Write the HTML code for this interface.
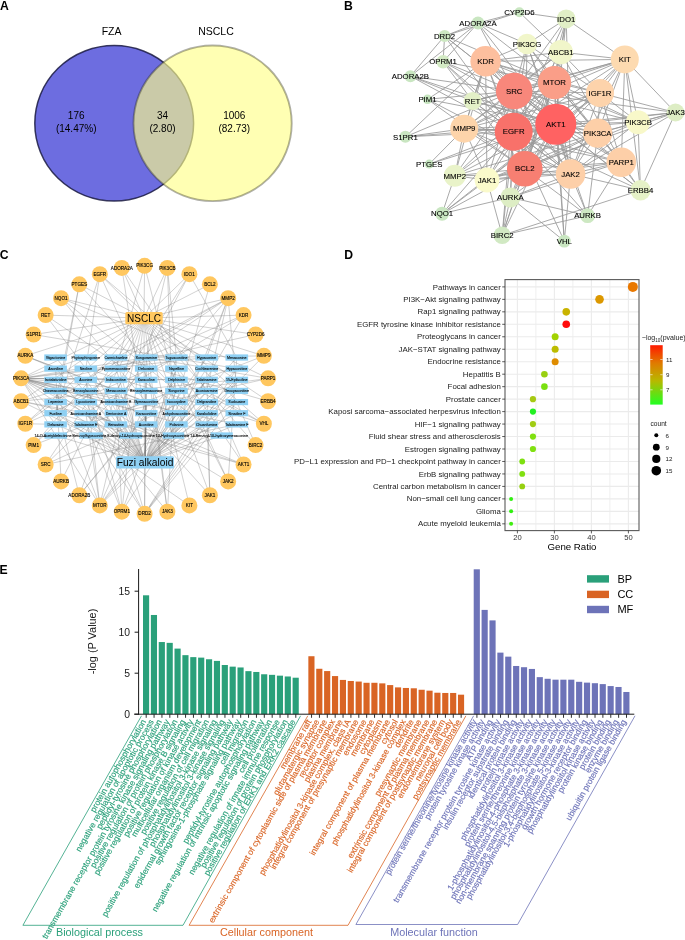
<!DOCTYPE html>
<html><head><meta charset="utf-8"><style>
html,body{margin:0;padding:0;background:#fff;}
body{width:685px;height:940px;overflow:hidden;}
svg{display:block;will-change:transform;}
text{font-family:"Liberation Sans",sans-serif;}
</style></head><body>
<svg width="685" height="940" viewBox="0 0 685 940" font-family="Liberation Sans, sans-serif">
<rect width="685" height="940" fill="#fff"/>
<text x="0.00" y="9.60" font-size="12.2" text-anchor="start" fill="#000" font-weight="bold">A</text>
<text x="344.00" y="9.70" font-size="12.2" text-anchor="start" fill="#000" font-weight="bold">B</text>
<text x="-0.30" y="259.30" font-size="12.2" text-anchor="start" fill="#000" font-weight="bold">C</text>
<text x="344.20" y="259.00" font-size="12.2" text-anchor="start" fill="#000" font-weight="bold">D</text>
<text x="-0.60" y="573.60" font-size="12.2" text-anchor="start" fill="#000" font-weight="bold">E</text>
<ellipse cx="114.2" cy="123.3" rx="79.4" ry="77.8" fill="#6D6DE0" stroke="#15153A" stroke-opacity="0.82" stroke-width="1.5"/>
<ellipse cx="212.6" cy="123.3" rx="79.10000000000001" ry="77.8" fill="#FFFF88" fill-opacity="0.64"/>
<ellipse cx="212.6" cy="123.3" rx="79.10000000000001" ry="77.8" fill="none" stroke="#202010" stroke-opacity="0.36" stroke-width="1.9"/>
<text x="111.60" y="34.70" font-size="10.5" text-anchor="middle" fill="#000">FZA</text>
<text x="216.00" y="35.30" font-size="10.5" text-anchor="middle" fill="#000">NSCLC</text>
<text x="76.20" y="119.30" font-size="10" text-anchor="middle" fill="#000">176</text>
<text x="76.20" y="131.50" font-size="10" text-anchor="middle" fill="#000">(14.47%)</text>
<text x="162.50" y="119.30" font-size="10" text-anchor="middle" fill="#000">34</text>
<text x="162.50" y="131.50" font-size="10" text-anchor="middle" fill="#000">(2.80)</text>
<text x="234.30" y="119.30" font-size="10" text-anchor="middle" fill="#000">1006</text>
<text x="234.30" y="131.50" font-size="10" text-anchor="middle" fill="#000">(82.73)</text>
<g stroke="#999" stroke-width="0.85">
<line x1="560.8" y1="52.1" x2="555.8" y2="124.2"/>
<line x1="560.8" y1="52.1" x2="524.8" y2="168.7"/>
<line x1="560.8" y1="52.1" x2="519.4" y2="12.2"/>
<line x1="560.8" y1="52.1" x2="513.7" y2="131.7"/>
<line x1="560.8" y1="52.1" x2="566.2" y2="18.9"/>
<line x1="560.8" y1="52.1" x2="600.0" y2="93.0"/>
<line x1="560.8" y1="52.1" x2="485.6" y2="61.3"/>
<line x1="560.8" y1="52.1" x2="624.8" y2="59.4"/>
<line x1="560.8" y1="52.1" x2="464.2" y2="128.7"/>
<line x1="560.8" y1="52.1" x2="554.5" y2="82.6"/>
<line x1="560.8" y1="52.1" x2="621.3" y2="162.2"/>
<line x1="560.8" y1="52.1" x2="514.2" y2="91.0"/>
<line x1="478.0" y1="23.0" x2="410.4" y2="76.2"/>
<line x1="478.0" y1="23.0" x2="555.8" y2="124.2"/>
<line x1="478.0" y1="23.0" x2="519.4" y2="12.2"/>
<line x1="478.0" y1="23.0" x2="444.6" y2="36.0"/>
<line x1="478.0" y1="23.0" x2="554.5" y2="82.6"/>
<line x1="478.0" y1="23.0" x2="443.1" y2="61.7"/>
<line x1="478.0" y1="23.0" x2="527.0" y2="44.0"/>
<line x1="478.0" y1="23.0" x2="514.2" y2="91.0"/>
<line x1="410.4" y1="76.2" x2="555.8" y2="124.2"/>
<line x1="410.4" y1="76.2" x2="444.6" y2="36.0"/>
<line x1="410.4" y1="76.2" x2="513.7" y2="131.7"/>
<line x1="410.4" y1="76.2" x2="472.6" y2="101.0"/>
<line x1="410.4" y1="76.2" x2="514.2" y2="91.0"/>
<line x1="555.8" y1="124.2" x2="510.4" y2="197.4"/>
<line x1="555.8" y1="124.2" x2="587.6" y2="215.7"/>
<line x1="555.8" y1="124.2" x2="524.8" y2="168.7"/>
<line x1="555.8" y1="124.2" x2="502.2" y2="235.3"/>
<line x1="555.8" y1="124.2" x2="444.6" y2="36.0"/>
<line x1="555.8" y1="124.2" x2="513.7" y2="131.7"/>
<line x1="555.8" y1="124.2" x2="640.5" y2="190.2"/>
<line x1="555.8" y1="124.2" x2="566.2" y2="18.9"/>
<line x1="555.8" y1="124.2" x2="600.0" y2="93.0"/>
<line x1="555.8" y1="124.2" x2="487.0" y2="180.0"/>
<line x1="555.8" y1="124.2" x2="570.6" y2="174.0"/>
<line x1="555.8" y1="124.2" x2="675.5" y2="112.5"/>
<line x1="555.8" y1="124.2" x2="485.6" y2="61.3"/>
<line x1="555.8" y1="124.2" x2="624.8" y2="59.4"/>
<line x1="555.8" y1="124.2" x2="454.8" y2="175.8"/>
<line x1="555.8" y1="124.2" x2="464.2" y2="128.7"/>
<line x1="555.8" y1="124.2" x2="554.5" y2="82.6"/>
<line x1="555.8" y1="124.2" x2="442.1" y2="213.7"/>
<line x1="555.8" y1="124.2" x2="443.1" y2="61.7"/>
<line x1="555.8" y1="124.2" x2="621.3" y2="162.2"/>
<line x1="555.8" y1="124.2" x2="597.7" y2="133.2"/>
<line x1="555.8" y1="124.2" x2="638.0" y2="122.2"/>
<line x1="555.8" y1="124.2" x2="527.0" y2="44.0"/>
<line x1="555.8" y1="124.2" x2="427.5" y2="99.3"/>
<line x1="555.8" y1="124.2" x2="429.2" y2="164.1"/>
<line x1="555.8" y1="124.2" x2="472.6" y2="101.0"/>
<line x1="555.8" y1="124.2" x2="405.4" y2="136.8"/>
<line x1="555.8" y1="124.2" x2="514.2" y2="91.0"/>
<line x1="555.8" y1="124.2" x2="564.3" y2="241.1"/>
<line x1="510.4" y1="197.4" x2="587.6" y2="215.7"/>
<line x1="510.4" y1="197.4" x2="524.8" y2="168.7"/>
<line x1="510.4" y1="197.4" x2="502.2" y2="235.3"/>
<line x1="510.4" y1="197.4" x2="513.7" y2="131.7"/>
<line x1="510.4" y1="197.4" x2="570.6" y2="174.0"/>
<line x1="510.4" y1="197.4" x2="554.5" y2="82.6"/>
<line x1="510.4" y1="197.4" x2="442.1" y2="213.7"/>
<line x1="510.4" y1="197.4" x2="621.3" y2="162.2"/>
<line x1="510.4" y1="197.4" x2="597.7" y2="133.2"/>
<line x1="510.4" y1="197.4" x2="514.2" y2="91.0"/>
<line x1="510.4" y1="197.4" x2="564.3" y2="241.1"/>
<line x1="587.6" y1="215.7" x2="524.8" y2="168.7"/>
<line x1="587.6" y1="215.7" x2="502.2" y2="235.3"/>
<line x1="587.6" y1="215.7" x2="513.7" y2="131.7"/>
<line x1="587.6" y1="215.7" x2="570.6" y2="174.0"/>
<line x1="587.6" y1="215.7" x2="621.3" y2="162.2"/>
<line x1="587.6" y1="215.7" x2="597.7" y2="133.2"/>
<line x1="524.8" y1="168.7" x2="502.2" y2="235.3"/>
<line x1="524.8" y1="168.7" x2="513.7" y2="131.7"/>
<line x1="524.8" y1="168.7" x2="566.2" y2="18.9"/>
<line x1="524.8" y1="168.7" x2="600.0" y2="93.0"/>
<line x1="524.8" y1="168.7" x2="487.0" y2="180.0"/>
<line x1="524.8" y1="168.7" x2="570.6" y2="174.0"/>
<line x1="524.8" y1="168.7" x2="485.6" y2="61.3"/>
<line x1="524.8" y1="168.7" x2="624.8" y2="59.4"/>
<line x1="524.8" y1="168.7" x2="454.8" y2="175.8"/>
<line x1="524.8" y1="168.7" x2="464.2" y2="128.7"/>
<line x1="524.8" y1="168.7" x2="554.5" y2="82.6"/>
<line x1="524.8" y1="168.7" x2="442.1" y2="213.7"/>
<line x1="524.8" y1="168.7" x2="621.3" y2="162.2"/>
<line x1="524.8" y1="168.7" x2="597.7" y2="133.2"/>
<line x1="524.8" y1="168.7" x2="638.0" y2="122.2"/>
<line x1="524.8" y1="168.7" x2="527.0" y2="44.0"/>
<line x1="524.8" y1="168.7" x2="427.5" y2="99.3"/>
<line x1="524.8" y1="168.7" x2="472.6" y2="101.0"/>
<line x1="524.8" y1="168.7" x2="514.2" y2="91.0"/>
<line x1="502.2" y1="235.3" x2="513.7" y2="131.7"/>
<line x1="502.2" y1="235.3" x2="640.5" y2="190.2"/>
<line x1="502.2" y1="235.3" x2="487.0" y2="180.0"/>
<line x1="502.2" y1="235.3" x2="554.5" y2="82.6"/>
<line x1="502.2" y1="235.3" x2="514.2" y2="91.0"/>
<line x1="519.4" y1="12.2" x2="444.6" y2="36.0"/>
<line x1="519.4" y1="12.2" x2="566.2" y2="18.9"/>
<line x1="444.6" y1="36.0" x2="513.7" y2="131.7"/>
<line x1="444.6" y1="36.0" x2="554.5" y2="82.6"/>
<line x1="444.6" y1="36.0" x2="443.1" y2="61.7"/>
<line x1="444.6" y1="36.0" x2="514.2" y2="91.0"/>
<line x1="513.7" y1="131.7" x2="640.5" y2="190.2"/>
<line x1="513.7" y1="131.7" x2="566.2" y2="18.9"/>
<line x1="513.7" y1="131.7" x2="600.0" y2="93.0"/>
<line x1="513.7" y1="131.7" x2="487.0" y2="180.0"/>
<line x1="513.7" y1="131.7" x2="570.6" y2="174.0"/>
<line x1="513.7" y1="131.7" x2="675.5" y2="112.5"/>
<line x1="513.7" y1="131.7" x2="485.6" y2="61.3"/>
<line x1="513.7" y1="131.7" x2="624.8" y2="59.4"/>
<line x1="513.7" y1="131.7" x2="454.8" y2="175.8"/>
<line x1="513.7" y1="131.7" x2="464.2" y2="128.7"/>
<line x1="513.7" y1="131.7" x2="554.5" y2="82.6"/>
<line x1="513.7" y1="131.7" x2="442.1" y2="213.7"/>
<line x1="513.7" y1="131.7" x2="443.1" y2="61.7"/>
<line x1="513.7" y1="131.7" x2="621.3" y2="162.2"/>
<line x1="513.7" y1="131.7" x2="597.7" y2="133.2"/>
<line x1="513.7" y1="131.7" x2="638.0" y2="122.2"/>
<line x1="513.7" y1="131.7" x2="527.0" y2="44.0"/>
<line x1="513.7" y1="131.7" x2="429.2" y2="164.1"/>
<line x1="513.7" y1="131.7" x2="472.6" y2="101.0"/>
<line x1="513.7" y1="131.7" x2="405.4" y2="136.8"/>
<line x1="513.7" y1="131.7" x2="514.2" y2="91.0"/>
<line x1="513.7" y1="131.7" x2="564.3" y2="241.1"/>
<line x1="640.5" y1="190.2" x2="570.6" y2="174.0"/>
<line x1="640.5" y1="190.2" x2="675.5" y2="112.5"/>
<line x1="640.5" y1="190.2" x2="624.8" y2="59.4"/>
<line x1="640.5" y1="190.2" x2="621.3" y2="162.2"/>
<line x1="640.5" y1="190.2" x2="597.7" y2="133.2"/>
<line x1="640.5" y1="190.2" x2="638.0" y2="122.2"/>
<line x1="640.5" y1="190.2" x2="514.2" y2="91.0"/>
<line x1="566.2" y1="18.9" x2="570.6" y2="174.0"/>
<line x1="566.2" y1="18.9" x2="624.8" y2="59.4"/>
<line x1="566.2" y1="18.9" x2="554.5" y2="82.6"/>
<line x1="566.2" y1="18.9" x2="527.0" y2="44.0"/>
<line x1="566.2" y1="18.9" x2="514.2" y2="91.0"/>
<line x1="600.0" y1="93.0" x2="487.0" y2="180.0"/>
<line x1="600.0" y1="93.0" x2="570.6" y2="174.0"/>
<line x1="600.0" y1="93.0" x2="675.5" y2="112.5"/>
<line x1="600.0" y1="93.0" x2="485.6" y2="61.3"/>
<line x1="600.0" y1="93.0" x2="624.8" y2="59.4"/>
<line x1="600.0" y1="93.0" x2="464.2" y2="128.7"/>
<line x1="600.0" y1="93.0" x2="554.5" y2="82.6"/>
<line x1="600.0" y1="93.0" x2="621.3" y2="162.2"/>
<line x1="600.0" y1="93.0" x2="597.7" y2="133.2"/>
<line x1="600.0" y1="93.0" x2="638.0" y2="122.2"/>
<line x1="600.0" y1="93.0" x2="527.0" y2="44.0"/>
<line x1="600.0" y1="93.0" x2="514.2" y2="91.0"/>
<line x1="487.0" y1="180.0" x2="570.6" y2="174.0"/>
<line x1="487.0" y1="180.0" x2="675.5" y2="112.5"/>
<line x1="487.0" y1="180.0" x2="485.6" y2="61.3"/>
<line x1="487.0" y1="180.0" x2="454.8" y2="175.8"/>
<line x1="487.0" y1="180.0" x2="464.2" y2="128.7"/>
<line x1="487.0" y1="180.0" x2="554.5" y2="82.6"/>
<line x1="487.0" y1="180.0" x2="442.1" y2="213.7"/>
<line x1="487.0" y1="180.0" x2="621.3" y2="162.2"/>
<line x1="487.0" y1="180.0" x2="597.7" y2="133.2"/>
<line x1="487.0" y1="180.0" x2="514.2" y2="91.0"/>
<line x1="570.6" y1="174.0" x2="675.5" y2="112.5"/>
<line x1="570.6" y1="174.0" x2="485.6" y2="61.3"/>
<line x1="570.6" y1="174.0" x2="624.8" y2="59.4"/>
<line x1="570.6" y1="174.0" x2="454.8" y2="175.8"/>
<line x1="570.6" y1="174.0" x2="464.2" y2="128.7"/>
<line x1="570.6" y1="174.0" x2="554.5" y2="82.6"/>
<line x1="570.6" y1="174.0" x2="443.1" y2="61.7"/>
<line x1="570.6" y1="174.0" x2="621.3" y2="162.2"/>
<line x1="570.6" y1="174.0" x2="597.7" y2="133.2"/>
<line x1="570.6" y1="174.0" x2="638.0" y2="122.2"/>
<line x1="570.6" y1="174.0" x2="527.0" y2="44.0"/>
<line x1="570.6" y1="174.0" x2="427.5" y2="99.3"/>
<line x1="570.6" y1="174.0" x2="472.6" y2="101.0"/>
<line x1="570.6" y1="174.0" x2="514.2" y2="91.0"/>
<line x1="570.6" y1="174.0" x2="564.3" y2="241.1"/>
<line x1="675.5" y1="112.5" x2="624.8" y2="59.4"/>
<line x1="675.5" y1="112.5" x2="597.7" y2="133.2"/>
<line x1="675.5" y1="112.5" x2="638.0" y2="122.2"/>
<line x1="675.5" y1="112.5" x2="514.2" y2="91.0"/>
<line x1="485.6" y1="61.3" x2="624.8" y2="59.4"/>
<line x1="485.6" y1="61.3" x2="454.8" y2="175.8"/>
<line x1="485.6" y1="61.3" x2="464.2" y2="128.7"/>
<line x1="485.6" y1="61.3" x2="554.5" y2="82.6"/>
<line x1="485.6" y1="61.3" x2="621.3" y2="162.2"/>
<line x1="485.6" y1="61.3" x2="597.7" y2="133.2"/>
<line x1="485.6" y1="61.3" x2="638.0" y2="122.2"/>
<line x1="485.6" y1="61.3" x2="527.0" y2="44.0"/>
<line x1="485.6" y1="61.3" x2="427.5" y2="99.3"/>
<line x1="485.6" y1="61.3" x2="472.6" y2="101.0"/>
<line x1="485.6" y1="61.3" x2="405.4" y2="136.8"/>
<line x1="485.6" y1="61.3" x2="514.2" y2="91.0"/>
<line x1="624.8" y1="59.4" x2="464.2" y2="128.7"/>
<line x1="624.8" y1="59.4" x2="554.5" y2="82.6"/>
<line x1="624.8" y1="59.4" x2="621.3" y2="162.2"/>
<line x1="624.8" y1="59.4" x2="597.7" y2="133.2"/>
<line x1="624.8" y1="59.4" x2="638.0" y2="122.2"/>
<line x1="624.8" y1="59.4" x2="472.6" y2="101.0"/>
<line x1="624.8" y1="59.4" x2="514.2" y2="91.0"/>
<line x1="454.8" y1="175.8" x2="464.2" y2="128.7"/>
<line x1="454.8" y1="175.8" x2="554.5" y2="82.6"/>
<line x1="454.8" y1="175.8" x2="442.1" y2="213.7"/>
<line x1="454.8" y1="175.8" x2="597.7" y2="133.2"/>
<line x1="454.8" y1="175.8" x2="514.2" y2="91.0"/>
<line x1="464.2" y1="128.7" x2="554.5" y2="82.6"/>
<line x1="464.2" y1="128.7" x2="621.3" y2="162.2"/>
<line x1="464.2" y1="128.7" x2="597.7" y2="133.2"/>
<line x1="464.2" y1="128.7" x2="429.2" y2="164.1"/>
<line x1="464.2" y1="128.7" x2="472.6" y2="101.0"/>
<line x1="464.2" y1="128.7" x2="405.4" y2="136.8"/>
<line x1="464.2" y1="128.7" x2="514.2" y2="91.0"/>
<line x1="554.5" y1="82.6" x2="443.1" y2="61.7"/>
<line x1="554.5" y1="82.6" x2="621.3" y2="162.2"/>
<line x1="554.5" y1="82.6" x2="597.7" y2="133.2"/>
<line x1="554.5" y1="82.6" x2="638.0" y2="122.2"/>
<line x1="554.5" y1="82.6" x2="527.0" y2="44.0"/>
<line x1="554.5" y1="82.6" x2="472.6" y2="101.0"/>
<line x1="554.5" y1="82.6" x2="514.2" y2="91.0"/>
<line x1="554.5" y1="82.6" x2="564.3" y2="241.1"/>
<line x1="443.1" y1="61.7" x2="472.6" y2="101.0"/>
<line x1="443.1" y1="61.7" x2="514.2" y2="91.0"/>
<line x1="621.3" y1="162.2" x2="597.7" y2="133.2"/>
<line x1="621.3" y1="162.2" x2="514.2" y2="91.0"/>
<line x1="597.7" y1="133.2" x2="638.0" y2="122.2"/>
<line x1="597.7" y1="133.2" x2="527.0" y2="44.0"/>
<line x1="597.7" y1="133.2" x2="472.6" y2="101.0"/>
<line x1="597.7" y1="133.2" x2="514.2" y2="91.0"/>
<line x1="638.0" y1="122.2" x2="514.2" y2="91.0"/>
<line x1="527.0" y1="44.0" x2="514.2" y2="91.0"/>
<line x1="427.5" y1="99.3" x2="514.2" y2="91.0"/>
<line x1="472.6" y1="101.0" x2="514.2" y2="91.0"/>
<line x1="405.4" y1="136.8" x2="514.2" y2="91.0"/>
</g>
<circle cx="555.8" cy="124.2" r="20.5" fill="#FF6262"/>
<circle cx="513.7" cy="131.7" r="19.0" fill="#F8716A"/>
<circle cx="514.2" cy="91.0" r="18.3" fill="#F8877B"/>
<circle cx="524.8" cy="168.7" r="17.8" fill="#F77F72"/>
<circle cx="554.5" cy="82.6" r="16.7" fill="#FA9E88"/>
<circle cx="485.6" cy="61.3" r="15.2" fill="#FDBF9E"/>
<circle cx="600.0" cy="93.0" r="14.0" fill="#FDD3AB"/>
<circle cx="464.2" cy="128.7" r="14.0" fill="#FDD4AA"/>
<circle cx="624.8" cy="59.4" r="14.0" fill="#FDDAB0"/>
<circle cx="597.7" cy="133.2" r="14.6" fill="#FDCFA8"/>
<circle cx="621.3" cy="162.2" r="14.8" fill="#FDCFA8"/>
<circle cx="570.6" cy="174.0" r="14.8" fill="#FDCFA8"/>
<circle cx="487.0" cy="180.0" r="12.4" fill="#FAFACB"/>
<circle cx="638.0" cy="122.2" r="12.0" fill="#F8F8C9"/>
<circle cx="527.0" cy="44.0" r="10.3" fill="#F1F6CA"/>
<circle cx="560.8" cy="52.1" r="12.2" fill="#F1F6CA"/>
<circle cx="566.2" cy="18.9" r="9.5" fill="#E1EFC6"/>
<circle cx="472.6" cy="101.0" r="9.1" fill="#E3F0C7"/>
<circle cx="454.8" cy="175.8" r="11.0" fill="#E9F3C9"/>
<circle cx="510.4" cy="197.4" r="10.0" fill="#DDEDC4"/>
<circle cx="640.5" cy="190.2" r="10.2" fill="#E6F2C7"/>
<circle cx="675.5" cy="112.5" r="9.0" fill="#DDEDC4"/>
<circle cx="519.4" cy="12.2" r="5.0" fill="#C9E6C1"/>
<circle cx="478.0" cy="23.0" r="6.5" fill="#C9E6C1"/>
<circle cx="444.6" cy="36.0" r="6.1" fill="#CDE8C2"/>
<circle cx="443.1" cy="61.7" r="6.8" fill="#D3EAC4"/>
<circle cx="410.4" cy="76.2" r="6.0" fill="#C9E6C1"/>
<circle cx="427.5" cy="99.3" r="4.8" fill="#C6E5BF"/>
<circle cx="405.4" cy="136.8" r="6.0" fill="#C9E6C1"/>
<circle cx="429.2" cy="164.1" r="4.5" fill="#C6E5BF"/>
<circle cx="442.1" cy="213.7" r="7.0" fill="#C9E6C1"/>
<circle cx="587.6" cy="215.7" r="7.4" fill="#CDE8C2"/>
<circle cx="502.2" cy="235.3" r="8.7" fill="#D1E9C3"/>
<circle cx="564.3" cy="241.1" r="6.4" fill="#C9E6C1"/>
<text x="555.80" y="126.90" font-size="7.8" text-anchor="middle" fill="#000" stroke="#000" stroke-width="0.1">AKT1</text>
<text x="513.70" y="134.40" font-size="7.8" text-anchor="middle" fill="#000" stroke="#000" stroke-width="0.1">EGFR</text>
<text x="514.20" y="93.70" font-size="7.8" text-anchor="middle" fill="#000" stroke="#000" stroke-width="0.1">SRC</text>
<text x="524.80" y="171.40" font-size="7.8" text-anchor="middle" fill="#000" stroke="#000" stroke-width="0.1">BCL2</text>
<text x="554.50" y="85.30" font-size="7.8" text-anchor="middle" fill="#000" stroke="#000" stroke-width="0.1">MTOR</text>
<text x="485.60" y="64.00" font-size="7.8" text-anchor="middle" fill="#000" stroke="#000" stroke-width="0.1">KDR</text>
<text x="600.00" y="95.70" font-size="7.8" text-anchor="middle" fill="#000" stroke="#000" stroke-width="0.1">IGF1R</text>
<text x="464.20" y="131.40" font-size="7.8" text-anchor="middle" fill="#000" stroke="#000" stroke-width="0.1">MMP9</text>
<text x="624.80" y="62.10" font-size="7.8" text-anchor="middle" fill="#000" stroke="#000" stroke-width="0.1">KIT</text>
<text x="597.70" y="135.90" font-size="7.8" text-anchor="middle" fill="#000" stroke="#000" stroke-width="0.1">PIK3CA</text>
<text x="621.30" y="164.90" font-size="7.8" text-anchor="middle" fill="#000" stroke="#000" stroke-width="0.1">PARP1</text>
<text x="570.60" y="176.70" font-size="7.8" text-anchor="middle" fill="#000" stroke="#000" stroke-width="0.1">JAK2</text>
<text x="487.00" y="182.70" font-size="7.8" text-anchor="middle" fill="#000" stroke="#000" stroke-width="0.1">JAK1</text>
<text x="638.00" y="124.90" font-size="7.8" text-anchor="middle" fill="#000" stroke="#000" stroke-width="0.1">PIK3CB</text>
<text x="527.00" y="46.70" font-size="7.8" text-anchor="middle" fill="#000" stroke="#000" stroke-width="0.1">PIK3CG</text>
<text x="560.80" y="54.80" font-size="7.8" text-anchor="middle" fill="#000" stroke="#000" stroke-width="0.1">ABCB1</text>
<text x="566.20" y="21.60" font-size="7.8" text-anchor="middle" fill="#000" stroke="#000" stroke-width="0.1">IDO1</text>
<text x="472.60" y="103.70" font-size="7.8" text-anchor="middle" fill="#000" stroke="#000" stroke-width="0.1">RET</text>
<text x="454.80" y="178.50" font-size="7.8" text-anchor="middle" fill="#000" stroke="#000" stroke-width="0.1">MMP2</text>
<text x="510.40" y="200.10" font-size="7.8" text-anchor="middle" fill="#000" stroke="#000" stroke-width="0.1">AURKA</text>
<text x="640.50" y="192.90" font-size="7.8" text-anchor="middle" fill="#000" stroke="#000" stroke-width="0.1">ERBB4</text>
<text x="675.50" y="115.20" font-size="7.8" text-anchor="middle" fill="#000" stroke="#000" stroke-width="0.1">JAK3</text>
<text x="519.40" y="14.90" font-size="7.8" text-anchor="middle" fill="#000" stroke="#000" stroke-width="0.1">CYP2D6</text>
<text x="478.00" y="25.70" font-size="7.8" text-anchor="middle" fill="#000" stroke="#000" stroke-width="0.1">ADORA2A</text>
<text x="444.60" y="38.70" font-size="7.8" text-anchor="middle" fill="#000" stroke="#000" stroke-width="0.1">DRD2</text>
<text x="443.10" y="64.40" font-size="7.8" text-anchor="middle" fill="#000" stroke="#000" stroke-width="0.1">OPRM1</text>
<text x="410.40" y="78.90" font-size="7.8" text-anchor="middle" fill="#000" stroke="#000" stroke-width="0.1">ADORA2B</text>
<text x="427.50" y="102.00" font-size="7.8" text-anchor="middle" fill="#000" stroke="#000" stroke-width="0.1">PIM1</text>
<text x="405.40" y="139.50" font-size="7.8" text-anchor="middle" fill="#000" stroke="#000" stroke-width="0.1">S1PR1</text>
<text x="429.20" y="166.80" font-size="7.8" text-anchor="middle" fill="#000" stroke="#000" stroke-width="0.1">PTGES</text>
<text x="442.10" y="216.40" font-size="7.8" text-anchor="middle" fill="#000" stroke="#000" stroke-width="0.1">NQO1</text>
<text x="587.60" y="218.40" font-size="7.8" text-anchor="middle" fill="#000" stroke="#000" stroke-width="0.1">AURKB</text>
<text x="502.20" y="238.00" font-size="7.8" text-anchor="middle" fill="#000" stroke="#000" stroke-width="0.1">BIRC2</text>
<text x="564.30" y="243.80" font-size="7.8" text-anchor="middle" fill="#000" stroke="#000" stroke-width="0.1">VHL</text>
<g stroke="#7A7A7A" stroke-width="0.4" stroke-opacity="0.85">
<line x1="144.0" y1="318.1" x2="144.6" y2="265.8"/>
<line x1="144.0" y1="318.1" x2="167.4" y2="267.9"/>
<line x1="144.0" y1="318.1" x2="189.4" y2="274.2"/>
<line x1="144.0" y1="318.1" x2="209.9" y2="284.4"/>
<line x1="144.0" y1="318.1" x2="228.1" y2="298.2"/>
<line x1="144.0" y1="318.1" x2="243.6" y2="315.1"/>
<line x1="144.0" y1="318.1" x2="255.6" y2="334.5"/>
<line x1="144.0" y1="318.1" x2="263.9" y2="355.9"/>
<line x1="144.0" y1="318.1" x2="268.1" y2="378.4"/>
<line x1="144.0" y1="318.1" x2="268.1" y2="401.2"/>
<line x1="144.0" y1="318.1" x2="263.9" y2="423.7"/>
<line x1="144.0" y1="318.1" x2="255.6" y2="445.1"/>
<line x1="144.0" y1="318.1" x2="243.6" y2="464.5"/>
<line x1="144.0" y1="318.1" x2="228.1" y2="481.4"/>
<line x1="144.0" y1="318.1" x2="209.9" y2="495.2"/>
<line x1="144.0" y1="318.1" x2="189.4" y2="505.4"/>
<line x1="144.0" y1="318.1" x2="167.4" y2="511.7"/>
<line x1="144.0" y1="318.1" x2="144.6" y2="513.8"/>
<line x1="144.0" y1="318.1" x2="121.8" y2="511.7"/>
<line x1="144.0" y1="318.1" x2="99.8" y2="505.4"/>
<line x1="144.0" y1="318.1" x2="79.3" y2="495.2"/>
<line x1="144.0" y1="318.1" x2="61.1" y2="481.4"/>
<line x1="144.0" y1="318.1" x2="45.6" y2="464.5"/>
<line x1="144.0" y1="318.1" x2="33.6" y2="445.1"/>
<line x1="144.0" y1="318.1" x2="25.3" y2="423.7"/>
<line x1="144.0" y1="318.1" x2="21.1" y2="401.2"/>
<line x1="144.0" y1="318.1" x2="21.1" y2="378.4"/>
<line x1="144.0" y1="318.1" x2="25.3" y2="355.9"/>
<line x1="144.0" y1="318.1" x2="33.6" y2="334.5"/>
<line x1="144.0" y1="318.1" x2="45.6" y2="315.1"/>
<line x1="144.0" y1="318.1" x2="61.1" y2="298.2"/>
<line x1="144.0" y1="318.1" x2="79.3" y2="284.4"/>
<line x1="144.0" y1="318.1" x2="99.8" y2="274.2"/>
<line x1="144.0" y1="318.1" x2="121.8" y2="267.9"/>
<line x1="145.0" y1="462.4" x2="55.6" y2="357.5"/>
<line x1="145.0" y1="462.4" x2="85.8" y2="357.5"/>
<line x1="145.0" y1="462.4" x2="116.0" y2="357.5"/>
<line x1="145.0" y1="462.4" x2="146.2" y2="357.5"/>
<line x1="145.0" y1="462.4" x2="176.4" y2="357.5"/>
<line x1="145.0" y1="462.4" x2="206.6" y2="357.5"/>
<line x1="145.0" y1="462.4" x2="236.8" y2="357.5"/>
<line x1="145.0" y1="462.4" x2="55.6" y2="368.6"/>
<line x1="145.0" y1="462.4" x2="85.8" y2="368.6"/>
<line x1="145.0" y1="462.4" x2="116.0" y2="368.6"/>
<line x1="145.0" y1="462.4" x2="146.2" y2="368.6"/>
<line x1="145.0" y1="462.4" x2="176.4" y2="368.6"/>
<line x1="145.0" y1="462.4" x2="206.6" y2="368.6"/>
<line x1="145.0" y1="462.4" x2="236.8" y2="368.6"/>
<line x1="145.0" y1="462.4" x2="55.6" y2="379.8"/>
<line x1="145.0" y1="462.4" x2="85.8" y2="379.8"/>
<line x1="145.0" y1="462.4" x2="116.0" y2="379.8"/>
<line x1="145.0" y1="462.4" x2="146.2" y2="379.8"/>
<line x1="145.0" y1="462.4" x2="176.4" y2="379.8"/>
<line x1="145.0" y1="462.4" x2="206.6" y2="379.8"/>
<line x1="145.0" y1="462.4" x2="236.8" y2="379.8"/>
<line x1="145.0" y1="462.4" x2="55.6" y2="390.9"/>
<line x1="145.0" y1="462.4" x2="85.8" y2="390.9"/>
<line x1="145.0" y1="462.4" x2="116.0" y2="390.9"/>
<line x1="145.0" y1="462.4" x2="146.2" y2="390.9"/>
<line x1="145.0" y1="462.4" x2="176.4" y2="390.9"/>
<line x1="145.0" y1="462.4" x2="206.6" y2="390.9"/>
<line x1="145.0" y1="462.4" x2="236.8" y2="390.9"/>
<line x1="145.0" y1="462.4" x2="55.6" y2="402.1"/>
<line x1="145.0" y1="462.4" x2="85.8" y2="402.1"/>
<line x1="145.0" y1="462.4" x2="116.0" y2="402.1"/>
<line x1="145.0" y1="462.4" x2="146.2" y2="402.1"/>
<line x1="145.0" y1="462.4" x2="176.4" y2="402.1"/>
<line x1="145.0" y1="462.4" x2="206.6" y2="402.1"/>
<line x1="145.0" y1="462.4" x2="236.8" y2="402.1"/>
<line x1="145.0" y1="462.4" x2="55.6" y2="413.2"/>
<line x1="145.0" y1="462.4" x2="85.8" y2="413.2"/>
<line x1="145.0" y1="462.4" x2="116.0" y2="413.2"/>
<line x1="145.0" y1="462.4" x2="146.2" y2="413.2"/>
<line x1="145.0" y1="462.4" x2="176.4" y2="413.2"/>
<line x1="145.0" y1="462.4" x2="206.6" y2="413.2"/>
<line x1="145.0" y1="462.4" x2="236.8" y2="413.2"/>
<line x1="145.0" y1="462.4" x2="55.6" y2="424.4"/>
<line x1="145.0" y1="462.4" x2="85.8" y2="424.4"/>
<line x1="145.0" y1="462.4" x2="116.0" y2="424.4"/>
<line x1="145.0" y1="462.4" x2="146.2" y2="424.4"/>
<line x1="145.0" y1="462.4" x2="176.4" y2="424.4"/>
<line x1="145.0" y1="462.4" x2="206.6" y2="424.4"/>
<line x1="145.0" y1="462.4" x2="236.8" y2="424.4"/>
<line x1="145.0" y1="462.4" x2="55.7" y2="435.6"/>
<line x1="145.0" y1="462.4" x2="91.0" y2="435.6"/>
<line x1="145.0" y1="462.4" x2="130.6" y2="435.6"/>
<line x1="145.0" y1="462.4" x2="173.4" y2="435.6"/>
<line x1="145.0" y1="462.4" x2="221.7" y2="435.6"/>
<line x1="144.6" y1="265.8" x2="116.0" y2="368.6"/>
<line x1="144.6" y1="265.8" x2="176.4" y2="390.9"/>
<line x1="167.4" y1="267.9" x2="146.2" y2="357.5"/>
<line x1="167.4" y1="267.9" x2="176.4" y2="357.5"/>
<line x1="167.4" y1="267.9" x2="173.4" y2="435.6"/>
<line x1="189.4" y1="274.2" x2="236.8" y2="357.5"/>
<line x1="189.4" y1="274.2" x2="116.0" y2="390.9"/>
<line x1="189.4" y1="274.2" x2="116.0" y2="413.2"/>
<line x1="209.9" y1="284.4" x2="176.4" y2="402.1"/>
<line x1="228.1" y1="298.2" x2="116.0" y2="357.5"/>
<line x1="228.1" y1="298.2" x2="206.6" y2="357.5"/>
<line x1="228.1" y1="298.2" x2="236.8" y2="390.9"/>
<line x1="228.1" y1="298.2" x2="206.6" y2="390.9"/>
<line x1="228.1" y1="298.2" x2="176.4" y2="357.5"/>
<line x1="228.1" y1="298.2" x2="85.8" y2="379.8"/>
<line x1="228.1" y1="298.2" x2="173.4" y2="435.6"/>
<line x1="228.1" y1="298.2" x2="55.6" y2="413.2"/>
<line x1="243.6" y1="315.1" x2="146.2" y2="357.5"/>
<line x1="243.6" y1="315.1" x2="173.4" y2="435.6"/>
<line x1="243.6" y1="315.1" x2="85.8" y2="413.2"/>
<line x1="255.6" y1="334.5" x2="55.6" y2="379.8"/>
<line x1="263.9" y1="355.9" x2="206.6" y2="413.2"/>
<line x1="263.9" y1="355.9" x2="116.0" y2="413.2"/>
<line x1="263.9" y1="355.9" x2="146.2" y2="357.5"/>
<line x1="268.1" y1="378.4" x2="116.0" y2="413.2"/>
<line x1="268.1" y1="378.4" x2="176.4" y2="390.9"/>
<line x1="268.1" y1="378.4" x2="146.2" y2="357.5"/>
<line x1="268.1" y1="401.2" x2="116.0" y2="357.5"/>
<line x1="263.9" y1="423.7" x2="85.8" y2="368.6"/>
<line x1="263.9" y1="423.7" x2="176.4" y2="379.8"/>
<line x1="263.9" y1="423.7" x2="206.6" y2="390.9"/>
<line x1="255.6" y1="445.1" x2="236.8" y2="402.1"/>
<line x1="243.6" y1="464.5" x2="85.8" y2="413.2"/>
<line x1="243.6" y1="464.5" x2="206.6" y2="379.8"/>
<line x1="243.6" y1="464.5" x2="55.6" y2="413.2"/>
<line x1="243.6" y1="464.5" x2="173.4" y2="435.6"/>
<line x1="228.1" y1="481.4" x2="176.4" y2="368.6"/>
<line x1="228.1" y1="481.4" x2="236.8" y2="357.5"/>
<line x1="228.1" y1="481.4" x2="116.0" y2="413.2"/>
<line x1="209.9" y1="495.2" x2="206.6" y2="413.2"/>
<line x1="209.9" y1="495.2" x2="206.6" y2="368.6"/>
<line x1="209.9" y1="495.2" x2="116.0" y2="390.9"/>
<line x1="189.4" y1="505.4" x2="55.6" y2="413.2"/>
<line x1="167.4" y1="511.7" x2="176.4" y2="357.5"/>
<line x1="167.4" y1="511.7" x2="85.8" y2="413.2"/>
<line x1="167.4" y1="511.7" x2="146.2" y2="357.5"/>
<line x1="144.6" y1="513.8" x2="236.8" y2="368.6"/>
<line x1="144.6" y1="513.8" x2="146.2" y2="402.1"/>
<line x1="144.6" y1="513.8" x2="85.8" y2="424.4"/>
<line x1="144.6" y1="513.8" x2="236.8" y2="402.1"/>
<line x1="144.6" y1="513.8" x2="236.8" y2="390.9"/>
<line x1="144.6" y1="513.8" x2="236.8" y2="379.8"/>
<line x1="144.6" y1="513.8" x2="85.8" y2="402.1"/>
<line x1="144.6" y1="513.8" x2="116.0" y2="413.2"/>
<line x1="121.8" y1="511.7" x2="116.0" y2="390.9"/>
<line x1="121.8" y1="511.7" x2="206.6" y2="379.8"/>
<line x1="121.8" y1="511.7" x2="85.8" y2="379.8"/>
<line x1="121.8" y1="511.7" x2="91.0" y2="435.6"/>
<line x1="121.8" y1="511.7" x2="176.4" y2="368.6"/>
<line x1="99.8" y1="505.4" x2="55.7" y2="435.6"/>
<line x1="99.8" y1="505.4" x2="85.8" y2="379.8"/>
<line x1="99.8" y1="505.4" x2="206.6" y2="357.5"/>
<line x1="99.8" y1="505.4" x2="85.8" y2="413.2"/>
<line x1="99.8" y1="505.4" x2="206.6" y2="379.8"/>
<line x1="99.8" y1="505.4" x2="206.6" y2="402.1"/>
<line x1="99.8" y1="505.4" x2="146.2" y2="402.1"/>
<line x1="99.8" y1="505.4" x2="55.6" y2="390.9"/>
<line x1="79.3" y1="495.2" x2="55.6" y2="402.1"/>
<line x1="79.3" y1="495.2" x2="176.4" y2="379.8"/>
<line x1="79.3" y1="495.2" x2="146.2" y2="413.2"/>
<line x1="61.1" y1="481.4" x2="55.6" y2="368.6"/>
<line x1="45.6" y1="464.5" x2="206.6" y2="390.9"/>
<line x1="45.6" y1="464.5" x2="146.2" y2="368.6"/>
<line x1="45.6" y1="464.5" x2="236.8" y2="424.4"/>
<line x1="33.6" y1="445.1" x2="116.0" y2="368.6"/>
<line x1="33.6" y1="445.1" x2="146.2" y2="402.1"/>
<line x1="25.3" y1="423.7" x2="116.0" y2="357.5"/>
<line x1="25.3" y1="423.7" x2="55.6" y2="424.4"/>
<line x1="25.3" y1="423.7" x2="176.4" y2="357.5"/>
<line x1="21.1" y1="401.2" x2="85.8" y2="413.2"/>
<line x1="21.1" y1="401.2" x2="91.0" y2="435.6"/>
<line x1="21.1" y1="401.2" x2="173.4" y2="435.6"/>
<line x1="21.1" y1="401.2" x2="236.8" y2="379.8"/>
<line x1="21.1" y1="401.2" x2="55.6" y2="390.9"/>
<line x1="21.1" y1="378.4" x2="85.8" y2="390.9"/>
<line x1="21.1" y1="378.4" x2="146.2" y2="413.2"/>
<line x1="21.1" y1="378.4" x2="146.2" y2="402.1"/>
<line x1="21.1" y1="378.4" x2="116.0" y2="413.2"/>
<line x1="21.1" y1="378.4" x2="85.8" y2="402.1"/>
<line x1="21.1" y1="378.4" x2="176.4" y2="357.5"/>
<line x1="21.1" y1="378.4" x2="206.6" y2="357.5"/>
<line x1="21.1" y1="378.4" x2="146.2" y2="379.8"/>
<line x1="21.1" y1="378.4" x2="116.0" y2="402.1"/>
<line x1="21.1" y1="378.4" x2="116.0" y2="424.4"/>
<line x1="21.1" y1="378.4" x2="55.6" y2="424.4"/>
<line x1="21.1" y1="378.4" x2="236.8" y2="424.4"/>
<line x1="21.1" y1="378.4" x2="146.2" y2="357.5"/>
<line x1="21.1" y1="378.4" x2="206.6" y2="379.8"/>
<line x1="21.1" y1="378.4" x2="85.8" y2="413.2"/>
<line x1="21.1" y1="378.4" x2="55.6" y2="402.1"/>
<line x1="21.1" y1="378.4" x2="176.4" y2="379.8"/>
<line x1="21.1" y1="378.4" x2="146.2" y2="390.9"/>
<line x1="21.1" y1="378.4" x2="221.7" y2="435.6"/>
<line x1="21.1" y1="378.4" x2="85.8" y2="357.5"/>
<line x1="21.1" y1="378.4" x2="55.7" y2="435.6"/>
<line x1="21.1" y1="378.4" x2="55.6" y2="413.2"/>
<line x1="25.3" y1="355.9" x2="176.4" y2="413.2"/>
<line x1="25.3" y1="355.9" x2="55.6" y2="368.6"/>
<line x1="25.3" y1="355.9" x2="146.2" y2="402.1"/>
<line x1="33.6" y1="334.5" x2="236.8" y2="368.6"/>
<line x1="45.6" y1="315.1" x2="85.8" y2="368.6"/>
<line x1="45.6" y1="315.1" x2="206.6" y2="424.4"/>
<line x1="61.1" y1="298.2" x2="176.4" y2="390.9"/>
<line x1="61.1" y1="298.2" x2="146.2" y2="402.1"/>
<line x1="61.1" y1="298.2" x2="206.6" y2="357.5"/>
<line x1="79.3" y1="284.4" x2="55.6" y2="402.1"/>
<line x1="79.3" y1="284.4" x2="176.4" y2="390.9"/>
<line x1="79.3" y1="284.4" x2="55.6" y2="413.2"/>
<line x1="99.8" y1="274.2" x2="85.8" y2="368.6"/>
<line x1="99.8" y1="274.2" x2="173.4" y2="435.6"/>
<line x1="99.8" y1="274.2" x2="236.8" y2="390.9"/>
<line x1="99.8" y1="274.2" x2="55.6" y2="413.2"/>
<line x1="121.8" y1="267.9" x2="146.2" y2="424.4"/>
<line x1="121.8" y1="267.9" x2="206.6" y2="390.9"/>
</g>
<circle cx="144.60" cy="265.80" r="8" fill="#FFC75F"/>
<circle cx="167.38" cy="267.91" r="8" fill="#FFC75F"/>
<circle cx="189.39" cy="274.17" r="8" fill="#FFC75F"/>
<circle cx="209.88" cy="284.37" r="8" fill="#FFC75F"/>
<circle cx="228.14" cy="298.16" r="8" fill="#FFC75F"/>
<circle cx="243.55" cy="315.07" r="8" fill="#FFC75F"/>
<circle cx="255.60" cy="334.53" r="8" fill="#FFC75F"/>
<circle cx="263.87" cy="355.87" r="8" fill="#FFC75F"/>
<circle cx="268.07" cy="378.36" r="8" fill="#FFC75F"/>
<circle cx="268.07" cy="401.24" r="8" fill="#FFC75F"/>
<circle cx="263.87" cy="423.73" r="8" fill="#FFC75F"/>
<circle cx="255.60" cy="445.07" r="8" fill="#FFC75F"/>
<circle cx="243.55" cy="464.53" r="8" fill="#FFC75F"/>
<circle cx="228.14" cy="481.44" r="8" fill="#FFC75F"/>
<circle cx="209.88" cy="495.23" r="8" fill="#FFC75F"/>
<circle cx="189.39" cy="505.43" r="8" fill="#FFC75F"/>
<circle cx="167.38" cy="511.69" r="8" fill="#FFC75F"/>
<circle cx="144.60" cy="513.80" r="8" fill="#FFC75F"/>
<circle cx="121.82" cy="511.69" r="8" fill="#FFC75F"/>
<circle cx="99.81" cy="505.43" r="8" fill="#FFC75F"/>
<circle cx="79.32" cy="495.23" r="8" fill="#FFC75F"/>
<circle cx="61.06" cy="481.44" r="8" fill="#FFC75F"/>
<circle cx="45.65" cy="464.53" r="8" fill="#FFC75F"/>
<circle cx="33.60" cy="445.07" r="8" fill="#FFC75F"/>
<circle cx="25.33" cy="423.73" r="8" fill="#FFC75F"/>
<circle cx="21.13" cy="401.24" r="8" fill="#FFC75F"/>
<circle cx="21.13" cy="378.36" r="8" fill="#FFC75F"/>
<circle cx="25.33" cy="355.87" r="8" fill="#FFC75F"/>
<circle cx="33.60" cy="334.53" r="8" fill="#FFC75F"/>
<circle cx="45.65" cy="315.07" r="8" fill="#FFC75F"/>
<circle cx="61.06" cy="298.16" r="8" fill="#FFC75F"/>
<circle cx="79.32" cy="284.37" r="8" fill="#FFC75F"/>
<circle cx="99.81" cy="274.17" r="8" fill="#FFC75F"/>
<circle cx="121.82" cy="267.91" r="8" fill="#FFC75F"/>
<text x="144.60" y="267.40" font-size="4.6" text-anchor="middle" fill="#000" stroke="#000" stroke-width="0.12">PIK3CG</text>
<text x="167.38" y="269.51" font-size="4.6" text-anchor="middle" fill="#000" stroke="#000" stroke-width="0.12">PIK3CB</text>
<text x="189.39" y="275.77" font-size="4.6" text-anchor="middle" fill="#000" stroke="#000" stroke-width="0.12">IDO1</text>
<text x="209.88" y="285.97" font-size="4.6" text-anchor="middle" fill="#000" stroke="#000" stroke-width="0.12">BCL2</text>
<text x="228.14" y="299.76" font-size="4.6" text-anchor="middle" fill="#000" stroke="#000" stroke-width="0.12">MMP2</text>
<text x="243.55" y="316.67" font-size="4.6" text-anchor="middle" fill="#000" stroke="#000" stroke-width="0.12">KDR</text>
<text x="255.60" y="336.13" font-size="4.6" text-anchor="middle" fill="#000" stroke="#000" stroke-width="0.12">CYP2D6</text>
<text x="263.87" y="357.47" font-size="4.6" text-anchor="middle" fill="#000" stroke="#000" stroke-width="0.12">MMP9</text>
<text x="268.07" y="379.96" font-size="4.6" text-anchor="middle" fill="#000" stroke="#000" stroke-width="0.12">PARP1</text>
<text x="268.07" y="402.84" font-size="4.6" text-anchor="middle" fill="#000" stroke="#000" stroke-width="0.12">ERBB4</text>
<text x="263.87" y="425.33" font-size="4.6" text-anchor="middle" fill="#000" stroke="#000" stroke-width="0.12">VHL</text>
<text x="255.60" y="446.67" font-size="4.6" text-anchor="middle" fill="#000" stroke="#000" stroke-width="0.12">BIRC2</text>
<text x="243.55" y="466.13" font-size="4.6" text-anchor="middle" fill="#000" stroke="#000" stroke-width="0.12">AKT1</text>
<text x="228.14" y="483.04" font-size="4.6" text-anchor="middle" fill="#000" stroke="#000" stroke-width="0.12">JAK2</text>
<text x="209.88" y="496.83" font-size="4.6" text-anchor="middle" fill="#000" stroke="#000" stroke-width="0.12">JAK1</text>
<text x="189.39" y="507.03" font-size="4.6" text-anchor="middle" fill="#000" stroke="#000" stroke-width="0.12">KIT</text>
<text x="167.38" y="513.29" font-size="4.6" text-anchor="middle" fill="#000" stroke="#000" stroke-width="0.12">JAK3</text>
<text x="144.60" y="515.40" font-size="4.6" text-anchor="middle" fill="#000" stroke="#000" stroke-width="0.12">DRD2</text>
<text x="121.82" y="513.29" font-size="4.6" text-anchor="middle" fill="#000" stroke="#000" stroke-width="0.12">OPRM1</text>
<text x="99.81" y="507.03" font-size="4.6" text-anchor="middle" fill="#000" stroke="#000" stroke-width="0.12">MTOR</text>
<text x="79.32" y="496.83" font-size="4.6" text-anchor="middle" fill="#000" stroke="#000" stroke-width="0.12">ADORA2B</text>
<text x="61.06" y="483.04" font-size="4.6" text-anchor="middle" fill="#000" stroke="#000" stroke-width="0.12">AURKB</text>
<text x="45.65" y="466.13" font-size="4.6" text-anchor="middle" fill="#000" stroke="#000" stroke-width="0.12">SRC</text>
<text x="33.60" y="446.67" font-size="4.6" text-anchor="middle" fill="#000" stroke="#000" stroke-width="0.12">PIM1</text>
<text x="25.33" y="425.33" font-size="4.6" text-anchor="middle" fill="#000" stroke="#000" stroke-width="0.12">IGF1R</text>
<text x="21.13" y="402.84" font-size="4.6" text-anchor="middle" fill="#000" stroke="#000" stroke-width="0.12">ABCB1</text>
<text x="21.13" y="379.96" font-size="4.6" text-anchor="middle" fill="#000" stroke="#000" stroke-width="0.12">PIK3CA</text>
<text x="25.33" y="357.47" font-size="4.6" text-anchor="middle" fill="#000" stroke="#000" stroke-width="0.12">AURKA</text>
<text x="33.60" y="336.13" font-size="4.6" text-anchor="middle" fill="#000" stroke="#000" stroke-width="0.12">S1PR1</text>
<text x="45.65" y="316.67" font-size="4.6" text-anchor="middle" fill="#000" stroke="#000" stroke-width="0.12">RET</text>
<text x="61.06" y="299.76" font-size="4.6" text-anchor="middle" fill="#000" stroke="#000" stroke-width="0.12">NQO1</text>
<text x="79.32" y="285.97" font-size="4.6" text-anchor="middle" fill="#000" stroke="#000" stroke-width="0.12">PTGES</text>
<text x="99.81" y="275.77" font-size="4.6" text-anchor="middle" fill="#000" stroke="#000" stroke-width="0.12">EGFR</text>
<text x="121.82" y="269.51" font-size="4.6" text-anchor="middle" fill="#000" stroke="#000" stroke-width="0.12">ADORA2A</text>
<rect x="44.3" y="354.4" width="22.6" height="6.2" fill="#8FD0F3"/>
<rect x="74.5" y="354.4" width="22.6" height="6.2" fill="#8FD0F3"/>
<rect x="104.7" y="354.4" width="22.6" height="6.2" fill="#8FD0F3"/>
<rect x="134.9" y="354.4" width="22.6" height="6.2" fill="#8FD0F3"/>
<rect x="165.1" y="354.4" width="22.6" height="6.2" fill="#8FD0F3"/>
<rect x="195.3" y="354.4" width="22.6" height="6.2" fill="#8FD0F3"/>
<rect x="225.5" y="354.4" width="22.6" height="6.2" fill="#8FD0F3"/>
<rect x="44.3" y="365.5" width="22.6" height="6.2" fill="#8FD0F3"/>
<rect x="74.5" y="365.5" width="22.6" height="6.2" fill="#8FD0F3"/>
<rect x="104.7" y="365.5" width="22.6" height="6.2" fill="#8FD0F3"/>
<rect x="134.9" y="365.5" width="22.6" height="6.2" fill="#8FD0F3"/>
<rect x="165.1" y="365.5" width="22.6" height="6.2" fill="#8FD0F3"/>
<rect x="195.3" y="365.5" width="22.6" height="6.2" fill="#8FD0F3"/>
<rect x="225.5" y="365.5" width="22.6" height="6.2" fill="#8FD0F3"/>
<rect x="44.3" y="376.7" width="22.6" height="6.2" fill="#8FD0F3"/>
<rect x="74.5" y="376.7" width="22.6" height="6.2" fill="#8FD0F3"/>
<rect x="104.7" y="376.7" width="22.6" height="6.2" fill="#8FD0F3"/>
<rect x="134.9" y="376.7" width="22.6" height="6.2" fill="#8FD0F3"/>
<rect x="165.1" y="376.7" width="22.6" height="6.2" fill="#8FD0F3"/>
<rect x="195.3" y="376.7" width="22.6" height="6.2" fill="#8FD0F3"/>
<rect x="225.5" y="376.7" width="22.6" height="6.2" fill="#8FD0F3"/>
<rect x="44.3" y="387.8" width="22.6" height="6.2" fill="#8FD0F3"/>
<rect x="74.5" y="387.8" width="22.6" height="6.2" fill="#8FD0F3"/>
<rect x="104.7" y="387.8" width="22.6" height="6.2" fill="#8FD0F3"/>
<rect x="134.9" y="387.8" width="22.6" height="6.2" fill="#8FD0F3"/>
<rect x="165.1" y="387.8" width="22.6" height="6.2" fill="#8FD0F3"/>
<rect x="195.3" y="387.8" width="22.6" height="6.2" fill="#8FD0F3"/>
<rect x="225.5" y="387.8" width="22.6" height="6.2" fill="#8FD0F3"/>
<rect x="44.3" y="399.0" width="22.6" height="6.2" fill="#8FD0F3"/>
<rect x="74.5" y="399.0" width="22.6" height="6.2" fill="#8FD0F3"/>
<rect x="104.7" y="399.0" width="22.6" height="6.2" fill="#8FD0F3"/>
<rect x="134.9" y="399.0" width="22.6" height="6.2" fill="#8FD0F3"/>
<rect x="165.1" y="399.0" width="22.6" height="6.2" fill="#8FD0F3"/>
<rect x="195.3" y="399.0" width="22.6" height="6.2" fill="#8FD0F3"/>
<rect x="225.5" y="399.0" width="22.6" height="6.2" fill="#8FD0F3"/>
<rect x="44.3" y="410.1" width="22.6" height="6.2" fill="#8FD0F3"/>
<rect x="74.5" y="410.1" width="22.6" height="6.2" fill="#8FD0F3"/>
<rect x="104.7" y="410.1" width="22.6" height="6.2" fill="#8FD0F3"/>
<rect x="134.9" y="410.1" width="22.6" height="6.2" fill="#8FD0F3"/>
<rect x="165.1" y="410.1" width="22.6" height="6.2" fill="#8FD0F3"/>
<rect x="195.3" y="410.1" width="22.6" height="6.2" fill="#8FD0F3"/>
<rect x="225.5" y="410.1" width="22.6" height="6.2" fill="#8FD0F3"/>
<rect x="44.3" y="421.3" width="22.6" height="6.2" fill="#8FD0F3"/>
<rect x="74.5" y="421.3" width="22.6" height="6.2" fill="#8FD0F3"/>
<rect x="104.7" y="421.3" width="22.6" height="6.2" fill="#8FD0F3"/>
<rect x="134.9" y="421.3" width="22.6" height="6.2" fill="#8FD0F3"/>
<rect x="165.1" y="421.3" width="22.6" height="6.2" fill="#8FD0F3"/>
<rect x="195.3" y="421.3" width="22.6" height="6.2" fill="#8FD0F3"/>
<rect x="225.5" y="421.3" width="22.6" height="6.2" fill="#8FD0F3"/>
<rect x="44.5" y="432.4" width="22.5" height="6.3" fill="#8FD0F3"/>
<rect x="79.3" y="432.4" width="23.5" height="6.3" fill="#8FD0F3"/>
<rect x="119.1" y="432.4" width="23.1" height="6.3" fill="#8FD0F3"/>
<rect x="162.7" y="432.4" width="21.5" height="6.3" fill="#8FD0F3"/>
<rect x="210.6" y="432.4" width="22.2" height="6.3" fill="#8FD0F3"/>
<text x="55.60" y="358.80" font-size="3.6" text-anchor="middle" fill="#000" stroke="#000" stroke-width="0.08">Gigactonine</text>
<text x="85.80" y="358.80" font-size="3.6" text-anchor="middle" fill="#000" stroke="#000" stroke-width="0.08">Phytosphingosine</text>
<text x="116.00" y="358.80" font-size="3.6" text-anchor="middle" fill="#000" stroke="#000" stroke-width="0.08">Carmichaeline</text>
<text x="146.20" y="358.80" font-size="3.6" text-anchor="middle" fill="#000" stroke="#000" stroke-width="0.08">Songoramine</text>
<text x="176.40" y="358.80" font-size="3.6" text-anchor="middle" fill="#000" stroke="#000" stroke-width="0.08">Tuguaconitine</text>
<text x="206.60" y="358.80" font-size="3.6" text-anchor="middle" fill="#000" stroke="#000" stroke-width="0.08">Hypaconine</text>
<text x="236.80" y="358.80" font-size="3.6" text-anchor="middle" fill="#000" stroke="#000" stroke-width="0.08">Mesaconine</text>
<text x="55.60" y="369.95" font-size="3.6" text-anchor="middle" fill="#000" stroke="#000" stroke-width="0.08">Asoniline</text>
<text x="85.80" y="369.95" font-size="3.6" text-anchor="middle" fill="#000" stroke="#000" stroke-width="0.08">Neoline</text>
<text x="116.00" y="369.95" font-size="3.6" text-anchor="middle" fill="#000" stroke="#000" stroke-width="0.08">Pyromesaconitine</text>
<text x="146.20" y="369.95" font-size="3.6" text-anchor="middle" fill="#000" stroke="#000" stroke-width="0.08">Delcosine</text>
<text x="176.40" y="369.95" font-size="3.6" text-anchor="middle" fill="#000" stroke="#000" stroke-width="0.08">Napelline</text>
<text x="206.60" y="369.95" font-size="3.6" text-anchor="middle" fill="#000" stroke="#000" stroke-width="0.08">Cochlearenine</text>
<text x="236.80" y="369.95" font-size="3.6" text-anchor="middle" fill="#000" stroke="#000" stroke-width="0.08">Hypaconitine</text>
<text x="55.60" y="381.10" font-size="3.6" text-anchor="middle" fill="#000" stroke="#000" stroke-width="0.08">Isotalatizidine</text>
<text x="85.80" y="381.10" font-size="3.6" text-anchor="middle" fill="#000" stroke="#000" stroke-width="0.08">Aconine</text>
<text x="116.00" y="381.10" font-size="3.6" text-anchor="middle" fill="#000" stroke="#000" stroke-width="0.08">Indaconitine</text>
<text x="146.20" y="381.10" font-size="3.6" text-anchor="middle" fill="#000" stroke="#000" stroke-width="0.08">Karacoline</text>
<text x="176.40" y="381.10" font-size="3.6" text-anchor="middle" fill="#000" stroke="#000" stroke-width="0.08">Delphinine</text>
<text x="206.60" y="381.10" font-size="3.6" text-anchor="middle" fill="#000" stroke="#000" stroke-width="0.08">Talatisamine</text>
<text x="236.80" y="381.10" font-size="3.6" text-anchor="middle" fill="#000" stroke="#000" stroke-width="0.08">15-Epiluciline</text>
<text x="55.60" y="392.25" font-size="3.6" text-anchor="middle" fill="#000" stroke="#000" stroke-width="0.08">Chasmaconitine</text>
<text x="85.80" y="392.25" font-size="3.6" text-anchor="middle" fill="#000" stroke="#000" stroke-width="0.08">Benzoylaconine</text>
<text x="116.00" y="392.25" font-size="3.6" text-anchor="middle" fill="#000" stroke="#000" stroke-width="0.08">Mesaconine</text>
<text x="146.20" y="392.25" font-size="3.6" text-anchor="middle" fill="#000" stroke="#000" stroke-width="0.08">Benzoylmesaconine</text>
<text x="176.40" y="392.25" font-size="3.6" text-anchor="middle" fill="#000" stroke="#000" stroke-width="0.08">Songorine</text>
<text x="206.60" y="392.25" font-size="3.6" text-anchor="middle" fill="#000" stroke="#000" stroke-width="0.08">Aconicarmine</text>
<text x="236.80" y="392.25" font-size="3.6" text-anchor="middle" fill="#000" stroke="#000" stroke-width="0.08">Deoxyaconitine</text>
<text x="55.60" y="403.40" font-size="3.6" text-anchor="middle" fill="#000" stroke="#000" stroke-width="0.08">Lepenine</text>
<text x="85.80" y="403.40" font-size="3.6" text-anchor="middle" fill="#000" stroke="#000" stroke-width="0.08">Lycoctonine</text>
<text x="116.00" y="403.40" font-size="3.6" text-anchor="middle" fill="#000" stroke="#000" stroke-width="0.08">Aconicarchamine B</text>
<text x="146.20" y="403.40" font-size="3.6" text-anchor="middle" fill="#000" stroke="#000" stroke-width="0.08">Gymnaconitine</text>
<text x="176.40" y="403.40" font-size="3.6" text-anchor="middle" fill="#000" stroke="#000" stroke-width="0.08">Isocorydine</text>
<text x="206.60" y="403.40" font-size="3.6" text-anchor="middle" fill="#000" stroke="#000" stroke-width="0.08">Delgrandine</text>
<text x="236.80" y="403.40" font-size="3.6" text-anchor="middle" fill="#000" stroke="#000" stroke-width="0.08">Sudcuaine</text>
<text x="55.60" y="414.55" font-size="3.6" text-anchor="middle" fill="#000" stroke="#000" stroke-width="0.08">Fuziline</text>
<text x="85.80" y="414.55" font-size="3.6" text-anchor="middle" fill="#000" stroke="#000" stroke-width="0.08">Aconicarchamine A</text>
<text x="116.00" y="414.55" font-size="3.6" text-anchor="middle" fill="#000" stroke="#000" stroke-width="0.08">Dentorcine A</text>
<text x="146.20" y="414.55" font-size="3.6" text-anchor="middle" fill="#000" stroke="#000" stroke-width="0.08">Karaconitine</text>
<text x="176.40" y="414.55" font-size="3.6" text-anchor="middle" fill="#000" stroke="#000" stroke-width="0.08">Anhydroaconitine</text>
<text x="206.60" y="414.55" font-size="3.6" text-anchor="middle" fill="#000" stroke="#000" stroke-width="0.08">Karakolidine</text>
<text x="236.80" y="414.55" font-size="3.6" text-anchor="middle" fill="#000" stroke="#000" stroke-width="0.08">Sinadine F</text>
<text x="55.60" y="425.70" font-size="3.6" text-anchor="middle" fill="#000" stroke="#000" stroke-width="0.08">Delavaine</text>
<text x="85.80" y="425.70" font-size="3.6" text-anchor="middle" fill="#000" stroke="#000" stroke-width="0.08">Talatisamine E</text>
<text x="116.00" y="425.70" font-size="3.6" text-anchor="middle" fill="#000" stroke="#000" stroke-width="0.08">Beiwutine</text>
<text x="146.20" y="425.70" font-size="3.6" text-anchor="middle" fill="#000" stroke="#000" stroke-width="0.08">Aconitine</text>
<text x="176.40" y="425.70" font-size="3.6" text-anchor="middle" fill="#000" stroke="#000" stroke-width="0.08">Polanine</text>
<text x="206.60" y="425.70" font-size="3.6" text-anchor="middle" fill="#000" stroke="#000" stroke-width="0.08">Chuanfumine</text>
<text x="236.80" y="425.70" font-size="3.6" text-anchor="middle" fill="#000" stroke="#000" stroke-width="0.08">Talatisamine F</text>
<text x="141.30" y="436.90" font-size="3.7" text-anchor="middle" fill="#000" stroke="#000" stroke-width="0.08">14-O-Acetyldelectinine Benzoylhypaconitine 8-deoxy-14-hydroxyaconitine 10-Hydroxyaconitine 14-Benzoyl-10-hydroxymesaconine</text>
<rect x="125.3" y="312" width="37.4" height="12.2" rx="1.5" fill="#FFC75F"/>
<text x="144.00" y="321.60" font-size="10" text-anchor="middle" fill="#000">NSCLC</text>
<rect x="116" y="456.2" width="58" height="12.4" rx="1.5" fill="#8FD0F3"/>
<text x="145.00" y="466.20" font-size="10.2" text-anchor="middle" fill="#000">Fuzi alkaloid</text>
<rect x="505.0" y="279.6" width="134.0" height="251.0" fill="#fff"/>
<line x1="535.9" y1="279.6" x2="535.9" y2="530.6" stroke="#EDEDED" stroke-width="0.9"/>
<line x1="572.9" y1="279.6" x2="572.9" y2="530.6" stroke="#EDEDED" stroke-width="0.9"/>
<line x1="609.9" y1="279.6" x2="609.9" y2="530.6" stroke="#EDEDED" stroke-width="0.9"/>
<line x1="517.4" y1="279.6" x2="517.4" y2="530.6" stroke="#EBEBEB" stroke-width="1.1"/>
<line x1="554.4" y1="279.6" x2="554.4" y2="530.6" stroke="#EBEBEB" stroke-width="1.1"/>
<line x1="591.4" y1="279.6" x2="591.4" y2="530.6" stroke="#EBEBEB" stroke-width="1.1"/>
<line x1="628.4" y1="279.6" x2="628.4" y2="530.6" stroke="#EBEBEB" stroke-width="1.1"/>
<line x1="505.0" y1="286.90" x2="639.0" y2="286.90" stroke="#EBEBEB" stroke-width="1.1"/>
<line x1="505.0" y1="299.37" x2="639.0" y2="299.37" stroke="#EBEBEB" stroke-width="1.1"/>
<line x1="505.0" y1="311.84" x2="639.0" y2="311.84" stroke="#EBEBEB" stroke-width="1.1"/>
<line x1="505.0" y1="324.31" x2="639.0" y2="324.31" stroke="#EBEBEB" stroke-width="1.1"/>
<line x1="505.0" y1="336.78" x2="639.0" y2="336.78" stroke="#EBEBEB" stroke-width="1.1"/>
<line x1="505.0" y1="349.25" x2="639.0" y2="349.25" stroke="#EBEBEB" stroke-width="1.1"/>
<line x1="505.0" y1="361.72" x2="639.0" y2="361.72" stroke="#EBEBEB" stroke-width="1.1"/>
<line x1="505.0" y1="374.19" x2="639.0" y2="374.19" stroke="#EBEBEB" stroke-width="1.1"/>
<line x1="505.0" y1="386.66" x2="639.0" y2="386.66" stroke="#EBEBEB" stroke-width="1.1"/>
<line x1="505.0" y1="399.13" x2="639.0" y2="399.13" stroke="#EBEBEB" stroke-width="1.1"/>
<line x1="505.0" y1="411.60" x2="639.0" y2="411.60" stroke="#EBEBEB" stroke-width="1.1"/>
<line x1="505.0" y1="424.07" x2="639.0" y2="424.07" stroke="#EBEBEB" stroke-width="1.1"/>
<line x1="505.0" y1="436.54" x2="639.0" y2="436.54" stroke="#EBEBEB" stroke-width="1.1"/>
<line x1="505.0" y1="449.01" x2="639.0" y2="449.01" stroke="#EBEBEB" stroke-width="1.1"/>
<line x1="505.0" y1="461.48" x2="639.0" y2="461.48" stroke="#EBEBEB" stroke-width="1.1"/>
<line x1="505.0" y1="473.95" x2="639.0" y2="473.95" stroke="#EBEBEB" stroke-width="1.1"/>
<line x1="505.0" y1="486.42" x2="639.0" y2="486.42" stroke="#EBEBEB" stroke-width="1.1"/>
<line x1="505.0" y1="498.89" x2="639.0" y2="498.89" stroke="#EBEBEB" stroke-width="1.1"/>
<line x1="505.0" y1="511.36" x2="639.0" y2="511.36" stroke="#EBEBEB" stroke-width="1.1"/>
<line x1="505.0" y1="523.83" x2="639.0" y2="523.83" stroke="#EBEBEB" stroke-width="1.1"/>
<rect x="505.0" y="279.6" width="134.0" height="251.0" fill="none" stroke="#5A5A5A" stroke-width="1.1"/>
<circle cx="632.84" cy="286.90" r="5.0" fill="#E97800"/>
<line x1="502.2" y1="286.90" x2="505.0" y2="286.90" stroke="#333" stroke-width="0.8"/>
<text x="500.80" y="289.50" font-size="7.85" text-anchor="end" fill="#1A1A1A">Pathways in cancer</text>
<circle cx="599.54" cy="299.37" r="4.3" fill="#DC9800"/>
<line x1="502.2" y1="299.37" x2="505.0" y2="299.37" stroke="#333" stroke-width="0.8"/>
<text x="500.80" y="301.97" font-size="7.85" text-anchor="end" fill="#1A1A1A">PI3K−Akt signaling pathway</text>
<circle cx="566.24" cy="311.84" r="3.8" fill="#C9B300"/>
<line x1="502.2" y1="311.84" x2="505.0" y2="311.84" stroke="#333" stroke-width="0.8"/>
<text x="500.80" y="314.44" font-size="7.85" text-anchor="end" fill="#1A1A1A">Rap1 signaling pathway</text>
<circle cx="566.24" cy="324.31" r="3.8" fill="#FF0B0B"/>
<line x1="502.2" y1="324.31" x2="505.0" y2="324.31" stroke="#333" stroke-width="0.8"/>
<text x="500.80" y="326.91" font-size="7.85" text-anchor="end" fill="#1A1A1A">EGFR tyrosine kinase inhibitor resistance</text>
<circle cx="555.14" cy="336.78" r="3.5" fill="#A2D200"/>
<line x1="502.2" y1="336.78" x2="505.0" y2="336.78" stroke="#333" stroke-width="0.8"/>
<text x="500.80" y="339.38" font-size="7.85" text-anchor="end" fill="#1A1A1A">Proteoglycans in cancer</text>
<circle cx="555.14" cy="349.25" r="3.5" fill="#BDBC00"/>
<line x1="502.2" y1="349.25" x2="505.0" y2="349.25" stroke="#333" stroke-width="0.8"/>
<text x="500.80" y="351.85" font-size="7.85" text-anchor="end" fill="#1A1A1A">JAK−STAT signaling pathway</text>
<circle cx="555.14" cy="361.72" r="3.5" fill="#DF8C00"/>
<line x1="502.2" y1="361.72" x2="505.0" y2="361.72" stroke="#333" stroke-width="0.8"/>
<text x="500.80" y="364.32" font-size="7.85" text-anchor="end" fill="#1A1A1A">Endocrine resistance</text>
<circle cx="544.41" cy="374.19" r="3.3" fill="#99D010"/>
<line x1="502.2" y1="374.19" x2="505.0" y2="374.19" stroke="#333" stroke-width="0.8"/>
<text x="500.80" y="376.79" font-size="7.85" text-anchor="end" fill="#1A1A1A">Hepatitis B</text>
<circle cx="544.41" cy="386.66" r="3.3" fill="#7AE010"/>
<line x1="502.2" y1="386.66" x2="505.0" y2="386.66" stroke="#333" stroke-width="0.8"/>
<text x="500.80" y="389.26" font-size="7.85" text-anchor="end" fill="#1A1A1A">Focal adhesion</text>
<circle cx="532.94" cy="399.13" r="3.1" fill="#A6C912"/>
<line x1="502.2" y1="399.13" x2="505.0" y2="399.13" stroke="#333" stroke-width="0.8"/>
<text x="500.80" y="401.73" font-size="7.85" text-anchor="end" fill="#1A1A1A">Prostate cancer</text>
<circle cx="532.94" cy="411.60" r="3.1" fill="#22F022"/>
<line x1="502.2" y1="411.60" x2="505.0" y2="411.60" stroke="#333" stroke-width="0.8"/>
<text x="500.80" y="414.20" font-size="7.85" text-anchor="end" fill="#1A1A1A">Kaposi sarcoma−associated herpesvirus infection</text>
<circle cx="532.94" cy="424.07" r="3.1" fill="#A0CC14"/>
<line x1="502.2" y1="424.07" x2="505.0" y2="424.07" stroke="#333" stroke-width="0.8"/>
<text x="500.80" y="426.67" font-size="7.85" text-anchor="end" fill="#1A1A1A">HIF−1 signaling pathway</text>
<circle cx="532.94" cy="436.54" r="3.1" fill="#80E010"/>
<line x1="502.2" y1="436.54" x2="505.0" y2="436.54" stroke="#333" stroke-width="0.8"/>
<text x="500.80" y="439.14" font-size="7.85" text-anchor="end" fill="#1A1A1A">Fluid shear stress and atherosclerosis</text>
<circle cx="532.94" cy="449.01" r="3.1" fill="#80E010"/>
<line x1="502.2" y1="449.01" x2="505.0" y2="449.01" stroke="#333" stroke-width="0.8"/>
<text x="500.80" y="451.61" font-size="7.85" text-anchor="end" fill="#1A1A1A">Estrogen signaling pathway</text>
<circle cx="522.21" cy="461.48" r="2.9" fill="#7EE010"/>
<line x1="502.2" y1="461.48" x2="505.0" y2="461.48" stroke="#333" stroke-width="0.8"/>
<text x="500.80" y="464.08" font-size="7.85" text-anchor="end" fill="#1A1A1A">PD−L1 expression and PD−1 checkpoint pathway in cancer</text>
<circle cx="522.21" cy="473.95" r="2.9" fill="#80E010"/>
<line x1="502.2" y1="473.95" x2="505.0" y2="473.95" stroke="#333" stroke-width="0.8"/>
<text x="500.80" y="476.55" font-size="7.85" text-anchor="end" fill="#1A1A1A">ErbB signaling pathway</text>
<circle cx="522.21" cy="486.42" r="2.9" fill="#96D010"/>
<line x1="502.2" y1="486.42" x2="505.0" y2="486.42" stroke="#333" stroke-width="0.8"/>
<text x="500.80" y="489.02" font-size="7.85" text-anchor="end" fill="#1A1A1A">Central carbon metabolism in cancer</text>
<circle cx="511.11" cy="498.89" r="2.0" fill="#30F010"/>
<line x1="502.2" y1="498.89" x2="505.0" y2="498.89" stroke="#333" stroke-width="0.8"/>
<text x="500.80" y="501.49" font-size="7.85" text-anchor="end" fill="#1A1A1A">Non−small cell lung cancer</text>
<circle cx="511.11" cy="511.36" r="2.0" fill="#30F010"/>
<line x1="502.2" y1="511.36" x2="505.0" y2="511.36" stroke="#333" stroke-width="0.8"/>
<text x="500.80" y="513.96" font-size="7.85" text-anchor="end" fill="#1A1A1A">Glioma</text>
<circle cx="511.11" cy="523.83" r="2.0" fill="#40EE10"/>
<line x1="502.2" y1="523.83" x2="505.0" y2="523.83" stroke="#333" stroke-width="0.8"/>
<text x="500.80" y="526.43" font-size="7.85" text-anchor="end" fill="#1A1A1A">Acute myeloid leukemia</text>
<line x1="517.4" y1="530.6" x2="517.4" y2="533.4" stroke="#333" stroke-width="0.8"/>
<text x="517.40" y="540.20" font-size="7.6" text-anchor="middle" fill="#333">20</text>
<line x1="554.4" y1="530.6" x2="554.4" y2="533.4" stroke="#333" stroke-width="0.8"/>
<text x="554.40" y="540.20" font-size="7.6" text-anchor="middle" fill="#333">30</text>
<line x1="591.4" y1="530.6" x2="591.4" y2="533.4" stroke="#333" stroke-width="0.8"/>
<text x="591.40" y="540.20" font-size="7.6" text-anchor="middle" fill="#333">40</text>
<line x1="628.4" y1="530.6" x2="628.4" y2="533.4" stroke="#333" stroke-width="0.8"/>
<text x="628.40" y="540.20" font-size="7.6" text-anchor="middle" fill="#333">50</text>
<text x="572.00" y="549.70" font-size="9.7" text-anchor="middle" fill="#000">Gene Ratio</text>
<defs><linearGradient id="cg" x1="0" y1="0" x2="0" y2="1"><stop offset="0" stop-color="#FF1A00"/><stop offset="0.3" stop-color="#E07A00"/><stop offset="0.6" stop-color="#B8B800"/><stop offset="1" stop-color="#22FF22"/></linearGradient></defs>
<text x="641.80" y="340.40" font-size="7.0" text-anchor="start" fill="#1A1A1A">−log<tspan font-size="4.6" dy="1.6">10</tspan><tspan dy="-1.6">(pvalue)</tspan></text>
<rect x="650.2" y="345.2" width="12.5" height="59.4" fill="url(#cg)"/>
<line x1="650.2" y1="359.5" x2="652.6" y2="359.5" stroke="#fff" stroke-width="0.6"/>
<line x1="660.3" y1="359.5" x2="662.7" y2="359.5" stroke="#fff" stroke-width="0.6"/>
<text x="666.00" y="361.80" font-size="6.2" text-anchor="start" fill="#1A1A1A">11</text>
<line x1="650.2" y1="374.7" x2="652.6" y2="374.7" stroke="#fff" stroke-width="0.6"/>
<line x1="660.3" y1="374.7" x2="662.7" y2="374.7" stroke="#fff" stroke-width="0.6"/>
<text x="666.00" y="377.00" font-size="6.2" text-anchor="start" fill="#1A1A1A">9</text>
<line x1="650.2" y1="389.8" x2="652.6" y2="389.8" stroke="#fff" stroke-width="0.6"/>
<line x1="660.3" y1="389.8" x2="662.7" y2="389.8" stroke="#fff" stroke-width="0.6"/>
<text x="666.00" y="392.10" font-size="6.2" text-anchor="start" fill="#1A1A1A">7</text>
<text x="650.50" y="425.60" font-size="6.6" text-anchor="start" fill="#1A1A1A">count</text>
<circle cx="656.3" cy="435.3" r="2.0" fill="#000"/>
<text x="665.50" y="437.60" font-size="6.2" text-anchor="start" fill="#1A1A1A">6</text>
<circle cx="656.3" cy="447.2" r="3.4" fill="#000"/>
<text x="665.50" y="449.50" font-size="6.2" text-anchor="start" fill="#1A1A1A">9</text>
<circle cx="656.3" cy="458.9" r="4.1" fill="#000"/>
<text x="665.50" y="461.20" font-size="6.2" text-anchor="start" fill="#1A1A1A">12</text>
<circle cx="656.3" cy="470.7" r="4.8" fill="#000"/>
<text x="665.50" y="473.00" font-size="6.2" text-anchor="start" fill="#1A1A1A">15</text>
<rect x="143.00" y="595.30" width="6.15" height="118.90" fill="#2AA07A"/>
<rect x="150.87" y="614.98" width="6.15" height="99.22" fill="#2AA07A"/>
<rect x="158.75" y="642.04" width="6.15" height="72.16" fill="#2AA07A"/>
<rect x="166.62" y="642.86" width="6.15" height="71.34" fill="#2AA07A"/>
<rect x="174.50" y="648.60" width="6.15" height="65.60" fill="#2AA07A"/>
<rect x="182.37" y="655.16" width="6.15" height="59.04" fill="#2AA07A"/>
<rect x="190.24" y="657.13" width="6.15" height="57.07" fill="#2AA07A"/>
<rect x="198.12" y="657.62" width="6.15" height="56.58" fill="#2AA07A"/>
<rect x="205.99" y="659.26" width="6.15" height="54.94" fill="#2AA07A"/>
<rect x="213.87" y="660.90" width="6.15" height="53.30" fill="#2AA07A"/>
<rect x="221.74" y="665.00" width="6.15" height="49.20" fill="#2AA07A"/>
<rect x="229.61" y="666.64" width="6.15" height="47.56" fill="#2AA07A"/>
<rect x="237.49" y="667.46" width="6.15" height="46.74" fill="#2AA07A"/>
<rect x="245.36" y="671.15" width="6.15" height="43.05" fill="#2AA07A"/>
<rect x="253.24" y="671.97" width="6.15" height="42.23" fill="#2AA07A"/>
<rect x="261.11" y="674.27" width="6.15" height="39.93" fill="#2AA07A"/>
<rect x="268.98" y="674.84" width="6.15" height="39.36" fill="#2AA07A"/>
<rect x="276.86" y="675.66" width="6.15" height="38.54" fill="#2AA07A"/>
<rect x="284.73" y="676.48" width="6.15" height="37.72" fill="#2AA07A"/>
<rect x="292.61" y="677.71" width="6.15" height="36.49" fill="#2AA07A"/>
<rect x="308.35" y="656.23" width="6.15" height="57.97" fill="#D96424"/>
<rect x="316.23" y="668.77" width="6.15" height="45.43" fill="#D96424"/>
<rect x="324.10" y="671.07" width="6.15" height="43.13" fill="#D96424"/>
<rect x="331.98" y="676.07" width="6.15" height="38.13" fill="#D96424"/>
<rect x="339.85" y="679.92" width="6.15" height="34.28" fill="#D96424"/>
<rect x="347.72" y="680.99" width="6.15" height="33.21" fill="#D96424"/>
<rect x="355.60" y="681.56" width="6.15" height="32.64" fill="#D96424"/>
<rect x="363.47" y="682.79" width="6.15" height="31.41" fill="#D96424"/>
<rect x="371.35" y="682.79" width="6.15" height="31.41" fill="#D96424"/>
<rect x="379.22" y="683.37" width="6.15" height="30.83" fill="#D96424"/>
<rect x="387.09" y="685.09" width="6.15" height="29.11" fill="#D96424"/>
<rect x="394.97" y="687.39" width="6.15" height="26.81" fill="#D96424"/>
<rect x="402.84" y="687.96" width="6.15" height="26.24" fill="#D96424"/>
<rect x="410.72" y="688.29" width="6.15" height="25.91" fill="#D96424"/>
<rect x="418.59" y="689.76" width="6.15" height="24.44" fill="#D96424"/>
<rect x="426.46" y="690.67" width="6.15" height="23.53" fill="#D96424"/>
<rect x="434.34" y="692.72" width="6.15" height="21.48" fill="#D96424"/>
<rect x="442.21" y="692.96" width="6.15" height="21.24" fill="#D96424"/>
<rect x="450.09" y="692.96" width="6.15" height="21.24" fill="#D96424"/>
<rect x="457.96" y="694.68" width="6.15" height="19.52" fill="#D96424"/>
<rect x="473.71" y="569.31" width="6.15" height="144.89" fill="#6D73B8"/>
<rect x="481.58" y="609.90" width="6.15" height="104.30" fill="#6D73B8"/>
<rect x="489.46" y="620.39" width="6.15" height="93.81" fill="#6D73B8"/>
<rect x="497.33" y="652.62" width="6.15" height="61.58" fill="#6D73B8"/>
<rect x="505.20" y="656.64" width="6.15" height="57.56" fill="#6D73B8"/>
<rect x="513.08" y="665.98" width="6.15" height="48.22" fill="#6D73B8"/>
<rect x="520.95" y="667.21" width="6.15" height="46.99" fill="#6D73B8"/>
<rect x="528.83" y="668.94" width="6.15" height="45.26" fill="#6D73B8"/>
<rect x="536.70" y="677.14" width="6.15" height="37.06" fill="#6D73B8"/>
<rect x="544.57" y="678.78" width="6.15" height="35.42" fill="#6D73B8"/>
<rect x="552.45" y="679.68" width="6.15" height="34.52" fill="#6D73B8"/>
<rect x="560.32" y="679.68" width="6.15" height="34.52" fill="#6D73B8"/>
<rect x="568.20" y="679.68" width="6.15" height="34.52" fill="#6D73B8"/>
<rect x="576.07" y="681.81" width="6.15" height="32.39" fill="#6D73B8"/>
<rect x="583.94" y="682.63" width="6.15" height="31.57" fill="#6D73B8"/>
<rect x="591.82" y="683.20" width="6.15" height="31.00" fill="#6D73B8"/>
<rect x="599.69" y="684.11" width="6.15" height="30.09" fill="#6D73B8"/>
<rect x="607.57" y="686.07" width="6.15" height="28.13" fill="#6D73B8"/>
<rect x="615.44" y="686.98" width="6.15" height="27.22" fill="#6D73B8"/>
<rect x="623.31" y="691.98" width="6.15" height="22.22" fill="#6D73B8"/>
<line x1="138.6" y1="569" x2="138.6" y2="714.7" stroke="#1a1a1a" stroke-width="1"/>
<line x1="134.2" y1="714.2" x2="634.3" y2="714.2" stroke="#1a1a1a" stroke-width="1"/>
<line x1="134.6" y1="714.20" x2="138.6" y2="714.20" stroke="#1a1a1a" stroke-width="1"/>
<text x="130.00" y="717.90" font-size="10.4" text-anchor="end" fill="#1a1a1a">0</text>
<line x1="134.6" y1="673.20" x2="138.6" y2="673.20" stroke="#1a1a1a" stroke-width="1"/>
<text x="130.00" y="676.90" font-size="10.4" text-anchor="end" fill="#1a1a1a">5</text>
<line x1="134.6" y1="632.20" x2="138.6" y2="632.20" stroke="#1a1a1a" stroke-width="1"/>
<text x="130.00" y="635.90" font-size="10.4" text-anchor="end" fill="#1a1a1a">10</text>
<line x1="134.6" y1="591.20" x2="138.6" y2="591.20" stroke="#1a1a1a" stroke-width="1"/>
<text x="130.00" y="594.90" font-size="10.4" text-anchor="end" fill="#1a1a1a">15</text>
<line x1="146.20" y1="714.2" x2="146.20" y2="717.8" stroke="#1a1a1a" stroke-width="0.9"/>
<line x1="154.07" y1="714.2" x2="154.07" y2="717.8" stroke="#1a1a1a" stroke-width="0.9"/>
<line x1="161.95" y1="714.2" x2="161.95" y2="717.8" stroke="#1a1a1a" stroke-width="0.9"/>
<line x1="169.82" y1="714.2" x2="169.82" y2="717.8" stroke="#1a1a1a" stroke-width="0.9"/>
<line x1="177.70" y1="714.2" x2="177.70" y2="717.8" stroke="#1a1a1a" stroke-width="0.9"/>
<line x1="185.57" y1="714.2" x2="185.57" y2="717.8" stroke="#1a1a1a" stroke-width="0.9"/>
<line x1="193.44" y1="714.2" x2="193.44" y2="717.8" stroke="#1a1a1a" stroke-width="0.9"/>
<line x1="201.32" y1="714.2" x2="201.32" y2="717.8" stroke="#1a1a1a" stroke-width="0.9"/>
<line x1="209.19" y1="714.2" x2="209.19" y2="717.8" stroke="#1a1a1a" stroke-width="0.9"/>
<line x1="217.07" y1="714.2" x2="217.07" y2="717.8" stroke="#1a1a1a" stroke-width="0.9"/>
<line x1="224.94" y1="714.2" x2="224.94" y2="717.8" stroke="#1a1a1a" stroke-width="0.9"/>
<line x1="232.81" y1="714.2" x2="232.81" y2="717.8" stroke="#1a1a1a" stroke-width="0.9"/>
<line x1="240.69" y1="714.2" x2="240.69" y2="717.8" stroke="#1a1a1a" stroke-width="0.9"/>
<line x1="248.56" y1="714.2" x2="248.56" y2="717.8" stroke="#1a1a1a" stroke-width="0.9"/>
<line x1="256.44" y1="714.2" x2="256.44" y2="717.8" stroke="#1a1a1a" stroke-width="0.9"/>
<line x1="264.31" y1="714.2" x2="264.31" y2="717.8" stroke="#1a1a1a" stroke-width="0.9"/>
<line x1="272.18" y1="714.2" x2="272.18" y2="717.8" stroke="#1a1a1a" stroke-width="0.9"/>
<line x1="280.06" y1="714.2" x2="280.06" y2="717.8" stroke="#1a1a1a" stroke-width="0.9"/>
<line x1="287.93" y1="714.2" x2="287.93" y2="717.8" stroke="#1a1a1a" stroke-width="0.9"/>
<line x1="295.81" y1="714.2" x2="295.81" y2="717.8" stroke="#1a1a1a" stroke-width="0.9"/>
<line x1="311.55" y1="714.2" x2="311.55" y2="717.8" stroke="#1a1a1a" stroke-width="0.9"/>
<line x1="319.43" y1="714.2" x2="319.43" y2="717.8" stroke="#1a1a1a" stroke-width="0.9"/>
<line x1="327.30" y1="714.2" x2="327.30" y2="717.8" stroke="#1a1a1a" stroke-width="0.9"/>
<line x1="335.18" y1="714.2" x2="335.18" y2="717.8" stroke="#1a1a1a" stroke-width="0.9"/>
<line x1="343.05" y1="714.2" x2="343.05" y2="717.8" stroke="#1a1a1a" stroke-width="0.9"/>
<line x1="350.92" y1="714.2" x2="350.92" y2="717.8" stroke="#1a1a1a" stroke-width="0.9"/>
<line x1="358.80" y1="714.2" x2="358.80" y2="717.8" stroke="#1a1a1a" stroke-width="0.9"/>
<line x1="366.67" y1="714.2" x2="366.67" y2="717.8" stroke="#1a1a1a" stroke-width="0.9"/>
<line x1="374.55" y1="714.2" x2="374.55" y2="717.8" stroke="#1a1a1a" stroke-width="0.9"/>
<line x1="382.42" y1="714.2" x2="382.42" y2="717.8" stroke="#1a1a1a" stroke-width="0.9"/>
<line x1="390.29" y1="714.2" x2="390.29" y2="717.8" stroke="#1a1a1a" stroke-width="0.9"/>
<line x1="398.17" y1="714.2" x2="398.17" y2="717.8" stroke="#1a1a1a" stroke-width="0.9"/>
<line x1="406.04" y1="714.2" x2="406.04" y2="717.8" stroke="#1a1a1a" stroke-width="0.9"/>
<line x1="413.92" y1="714.2" x2="413.92" y2="717.8" stroke="#1a1a1a" stroke-width="0.9"/>
<line x1="421.79" y1="714.2" x2="421.79" y2="717.8" stroke="#1a1a1a" stroke-width="0.9"/>
<line x1="429.66" y1="714.2" x2="429.66" y2="717.8" stroke="#1a1a1a" stroke-width="0.9"/>
<line x1="437.54" y1="714.2" x2="437.54" y2="717.8" stroke="#1a1a1a" stroke-width="0.9"/>
<line x1="445.41" y1="714.2" x2="445.41" y2="717.8" stroke="#1a1a1a" stroke-width="0.9"/>
<line x1="453.29" y1="714.2" x2="453.29" y2="717.8" stroke="#1a1a1a" stroke-width="0.9"/>
<line x1="461.16" y1="714.2" x2="461.16" y2="717.8" stroke="#1a1a1a" stroke-width="0.9"/>
<line x1="476.91" y1="714.2" x2="476.91" y2="717.8" stroke="#1a1a1a" stroke-width="0.9"/>
<line x1="484.78" y1="714.2" x2="484.78" y2="717.8" stroke="#1a1a1a" stroke-width="0.9"/>
<line x1="492.66" y1="714.2" x2="492.66" y2="717.8" stroke="#1a1a1a" stroke-width="0.9"/>
<line x1="500.53" y1="714.2" x2="500.53" y2="717.8" stroke="#1a1a1a" stroke-width="0.9"/>
<line x1="508.40" y1="714.2" x2="508.40" y2="717.8" stroke="#1a1a1a" stroke-width="0.9"/>
<line x1="516.28" y1="714.2" x2="516.28" y2="717.8" stroke="#1a1a1a" stroke-width="0.9"/>
<line x1="524.15" y1="714.2" x2="524.15" y2="717.8" stroke="#1a1a1a" stroke-width="0.9"/>
<line x1="532.03" y1="714.2" x2="532.03" y2="717.8" stroke="#1a1a1a" stroke-width="0.9"/>
<line x1="539.90" y1="714.2" x2="539.90" y2="717.8" stroke="#1a1a1a" stroke-width="0.9"/>
<line x1="547.77" y1="714.2" x2="547.77" y2="717.8" stroke="#1a1a1a" stroke-width="0.9"/>
<line x1="555.65" y1="714.2" x2="555.65" y2="717.8" stroke="#1a1a1a" stroke-width="0.9"/>
<line x1="563.52" y1="714.2" x2="563.52" y2="717.8" stroke="#1a1a1a" stroke-width="0.9"/>
<line x1="571.40" y1="714.2" x2="571.40" y2="717.8" stroke="#1a1a1a" stroke-width="0.9"/>
<line x1="579.27" y1="714.2" x2="579.27" y2="717.8" stroke="#1a1a1a" stroke-width="0.9"/>
<line x1="587.14" y1="714.2" x2="587.14" y2="717.8" stroke="#1a1a1a" stroke-width="0.9"/>
<line x1="595.02" y1="714.2" x2="595.02" y2="717.8" stroke="#1a1a1a" stroke-width="0.9"/>
<line x1="602.89" y1="714.2" x2="602.89" y2="717.8" stroke="#1a1a1a" stroke-width="0.9"/>
<line x1="610.77" y1="714.2" x2="610.77" y2="717.8" stroke="#1a1a1a" stroke-width="0.9"/>
<line x1="618.64" y1="714.2" x2="618.64" y2="717.8" stroke="#1a1a1a" stroke-width="0.9"/>
<line x1="626.51" y1="714.2" x2="626.51" y2="717.8" stroke="#1a1a1a" stroke-width="0.9"/>
<text x="0.00" y="0.00" font-size="10.9" text-anchor="middle" fill="#1a1a1a" transform="translate(95.6,641.5) rotate(-90)">-log (P Value)</text>
<text x="0" y="0" font-size="8.5" text-anchor="end" fill="#2AA07A" stroke="#2AA07A" stroke-width="0.15" transform="translate(141.00,718.60) rotate(-60.5) translate(0,6.12)">protein autophosphorylation</text>
<text x="0" y="0" font-size="8.5" text-anchor="end" fill="#2AA07A" stroke="#2AA07A" stroke-width="0.15" transform="translate(148.87,718.60) rotate(-60.5) translate(0,6.12)">negative regulation of apoptotic process</text>
<text x="0" y="0" font-size="8.5" text-anchor="end" fill="#2AA07A" stroke="#2AA07A" stroke-width="0.15" transform="translate(156.75,718.60) rotate(-60.5) translate(0,6.12)">peptidyl-tyrosine phosphorylation</text>
<text x="0" y="0" font-size="8.5" text-anchor="end" fill="#2AA07A" stroke="#2AA07A" stroke-width="0.15" transform="translate(164.62,718.60) rotate(-60.5) translate(0,6.12)">transmembrane receptor protein tyrosine kinase signaling pathway</text>
<text x="0" y="0" font-size="8.5" text-anchor="end" fill="#2AA07A" stroke="#2AA07A" stroke-width="0.15" transform="translate(172.50,718.60) rotate(-60.5) translate(0,6.12)">positive regulation of protein phosphorylation</text>
<text x="0" y="0" font-size="8.5" text-anchor="end" fill="#2AA07A" stroke="#2AA07A" stroke-width="0.15" transform="translate(180.37,718.60) rotate(-60.5) translate(0,6.12)">positive regulation of protein kinase B signaling</text>
<text x="0" y="0" font-size="8.5" text-anchor="end" fill="#2AA07A" stroke="#2AA07A" stroke-width="0.15" transform="translate(188.24,718.60) rotate(-60.5) translate(0,6.12)">positive regulation of kinase activity</text>
<text x="0" y="0" font-size="8.5" text-anchor="end" fill="#2AA07A" stroke="#2AA07A" stroke-width="0.15" transform="translate(196.12,718.60) rotate(-60.5) translate(0,6.12)">multicellular organism development</text>
<text x="0" y="0" font-size="8.5" text-anchor="end" fill="#2AA07A" stroke="#2AA07A" stroke-width="0.15" transform="translate(203.99,718.60) rotate(-60.5) translate(0,6.12)">positive regulation of cell migration</text>
<text x="0" y="0" font-size="8.5" text-anchor="end" fill="#2AA07A" stroke="#2AA07A" stroke-width="0.15" transform="translate(211.87,718.60) rotate(-60.5) translate(0,6.12)">positive regulation of phosphatidylinositol 3-kinase signaling</text>
<text x="0" y="0" font-size="8.5" text-anchor="end" fill="#2AA07A" stroke="#2AA07A" stroke-width="0.15" transform="translate(219.74,718.60) rotate(-60.5) translate(0,6.12)">phosphatidylinositol 3-kinase signaling</text>
<text x="0" y="0" font-size="8.5" text-anchor="end" fill="#2AA07A" stroke="#2AA07A" stroke-width="0.15" transform="translate(227.61,718.60) rotate(-60.5) translate(0,6.12)">epidermal growth factor receptor signaling pathway</text>
<text x="0" y="0" font-size="8.5" text-anchor="end" fill="#2AA07A" stroke="#2AA07A" stroke-width="0.15" transform="translate(235.49,718.60) rotate(-60.5) translate(0,6.12)">sphingosine-1-phosphate signaling pathway</text>
<text x="0" y="0" font-size="8.5" text-anchor="end" fill="#2AA07A" stroke="#2AA07A" stroke-width="0.15" transform="translate(243.36,718.60) rotate(-60.5) translate(0,6.12)">cell migration</text>
<text x="0" y="0" font-size="8.5" text-anchor="end" fill="#2AA07A" stroke="#2AA07A" stroke-width="0.15" transform="translate(251.24,718.60) rotate(-60.5) translate(0,6.12)">peptidyl-tyrosine autophosphorylation</text>
<text x="0" y="0" font-size="8.5" text-anchor="end" fill="#2AA07A" stroke="#2AA07A" stroke-width="0.15" transform="translate(259.11,718.60) rotate(-60.5) translate(0,6.12)">negative regulation of intrinsic apoptotic signaling pathway</text>
<text x="0" y="0" font-size="8.5" text-anchor="end" fill="#2AA07A" stroke="#2AA07A" stroke-width="0.15" transform="translate(266.98,718.60) rotate(-60.5) translate(0,6.12)">cell proliferation</text>
<text x="0" y="0" font-size="8.5" text-anchor="end" fill="#2AA07A" stroke="#2AA07A" stroke-width="0.15" transform="translate(274.86,718.60) rotate(-60.5) translate(0,6.12)">negative regulation of innate immune response</text>
<text x="0" y="0" font-size="8.5" text-anchor="end" fill="#2AA07A" stroke="#2AA07A" stroke-width="0.15" transform="translate(282.73,718.60) rotate(-60.5) translate(0,6.12)">positive regulation of protein phosphorylation</text>
<text x="0" y="0" font-size="8.5" text-anchor="end" fill="#2AA07A" stroke="#2AA07A" stroke-width="0.15" transform="translate(290.61,718.60) rotate(-60.5) translate(0,6.12)">positive regulation of ERK1 and ERK2 cascade</text>
<text x="0" y="0" font-size="8.5" text-anchor="end" fill="#D96424" stroke="#D96424" stroke-width="0.15" transform="translate(306.35,718.60) rotate(-60.5) translate(0,6.12)">membrane raft</text>
<text x="0" y="0" font-size="8.5" text-anchor="end" fill="#D96424" stroke="#D96424" stroke-width="0.15" transform="translate(314.23,718.60) rotate(-60.5) translate(0,6.12)">glutamatergic synapse</text>
<text x="0" y="0" font-size="8.5" text-anchor="end" fill="#D96424" stroke="#D96424" stroke-width="0.15" transform="translate(322.10,718.60) rotate(-60.5) translate(0,6.12)">extrinsic component of cytoplasmic side of plasma membrane</text>
<text x="0" y="0" font-size="8.5" text-anchor="end" fill="#D96424" stroke="#D96424" stroke-width="0.15" transform="translate(329.98,718.60) rotate(-60.5) translate(0,6.12)">receptor complex</text>
<text x="0" y="0" font-size="8.5" text-anchor="end" fill="#D96424" stroke="#D96424" stroke-width="0.15" transform="translate(337.85,718.60) rotate(-60.5) translate(0,6.12)">plasma membrane</text>
<text x="0" y="0" font-size="8.5" text-anchor="end" fill="#D96424" stroke="#D96424" stroke-width="0.15" transform="translate(345.72,718.60) rotate(-60.5) translate(0,6.12)">phosphatidylinositol 3-kinase complex, class IA</text>
<text x="0" y="0" font-size="8.5" text-anchor="end" fill="#D96424" stroke="#D96424" stroke-width="0.15" transform="translate(353.60,718.60) rotate(-60.5) translate(0,6.12)">integral component of presynaptic membrane</text>
<text x="0" y="0" font-size="8.5" text-anchor="end" fill="#D96424" stroke="#D96424" stroke-width="0.15" transform="translate(361.47,718.60) rotate(-60.5) translate(0,6.12)">endosome</text>
<text x="0" y="0" font-size="8.5" text-anchor="end" fill="#D96424" stroke="#D96424" stroke-width="0.15" transform="translate(369.35,718.60) rotate(-60.5) translate(0,6.12)">membrane</text>
<text x="0" y="0" font-size="8.5" text-anchor="end" fill="#D96424" stroke="#D96424" stroke-width="0.15" transform="translate(377.22,718.60) rotate(-60.5) translate(0,6.12)">cytoplasm</text>
<text x="0" y="0" font-size="8.5" text-anchor="end" fill="#D96424" stroke="#D96424" stroke-width="0.15" transform="translate(385.09,718.60) rotate(-60.5) translate(0,6.12)">integral component of plasma membrane</text>
<text x="0" y="0" font-size="8.5" text-anchor="end" fill="#D96424" stroke="#D96424" stroke-width="0.15" transform="translate(392.97,718.60) rotate(-60.5) translate(0,6.12)">cytosol</text>
<text x="0" y="0" font-size="8.5" text-anchor="end" fill="#D96424" stroke="#D96424" stroke-width="0.15" transform="translate(400.84,718.60) rotate(-60.5) translate(0,6.12)">phosphatidylinositol 3-kinase complex</text>
<text x="0" y="0" font-size="8.5" text-anchor="end" fill="#D96424" stroke="#D96424" stroke-width="0.15" transform="translate(408.72,718.60) rotate(-60.5) translate(0,6.12)">dendrite</text>
<text x="0" y="0" font-size="8.5" text-anchor="end" fill="#D96424" stroke="#D96424" stroke-width="0.15" transform="translate(416.59,718.60) rotate(-60.5) translate(0,6.12)">presynaptic membrane</text>
<text x="0" y="0" font-size="8.5" text-anchor="end" fill="#D96424" stroke="#D96424" stroke-width="0.15" transform="translate(424.46,718.60) rotate(-60.5) translate(0,6.12)">extrinsic component of plasma membrane</text>
<text x="0" y="0" font-size="8.5" text-anchor="end" fill="#D96424" stroke="#D96424" stroke-width="0.15" transform="translate(432.34,718.60) rotate(-60.5) translate(0,6.12)">integral component of postsynaptic membrane</text>
<text x="0" y="0" font-size="8.5" text-anchor="end" fill="#D96424" stroke="#D96424" stroke-width="0.15" transform="translate(440.21,718.60) rotate(-60.5) translate(0,6.12)">endomembrane system</text>
<text x="0" y="0" font-size="8.5" text-anchor="end" fill="#D96424" stroke="#D96424" stroke-width="0.15" transform="translate(448.09,718.60) rotate(-60.5) translate(0,6.12)">neuronal cell body</text>
<text x="0" y="0" font-size="8.5" text-anchor="end" fill="#D96424" stroke="#D96424" stroke-width="0.15" transform="translate(455.96,718.60) rotate(-60.5) translate(0,6.12)">postsynaptic membrane</text>
<text x="0" y="0" font-size="8.5" text-anchor="end" fill="#6D73B8" stroke="#6D73B8" stroke-width="0.15" transform="translate(471.71,718.60) rotate(-60.5) translate(0,6.12)">protein serine/threonine/tyrosine kinase activity</text>
<text x="0" y="0" font-size="8.5" text-anchor="end" fill="#6D73B8" stroke="#6D73B8" stroke-width="0.15" transform="translate(479.58,718.60) rotate(-60.5) translate(0,6.12)">protein tyrosine kinase activity</text>
<text x="0" y="0" font-size="8.5" text-anchor="end" fill="#6D73B8" stroke="#6D73B8" stroke-width="0.15" transform="translate(487.46,718.60) rotate(-60.5) translate(0,6.12)">ATP binding</text>
<text x="0" y="0" font-size="8.5" text-anchor="end" fill="#6D73B8" stroke="#6D73B8" stroke-width="0.15" transform="translate(495.33,718.60) rotate(-60.5) translate(0,6.12)">transmembrane receptor protein tyrosine kinase activity</text>
<text x="0" y="0" font-size="8.5" text-anchor="end" fill="#6D73B8" stroke="#6D73B8" stroke-width="0.15" transform="translate(503.20,718.60) rotate(-60.5) translate(0,6.12)">insulin receptor substrate binding</text>
<text x="0" y="0" font-size="8.5" text-anchor="end" fill="#6D73B8" stroke="#6D73B8" stroke-width="0.15" transform="translate(511.08,718.60) rotate(-60.5) translate(0,6.12)">identical protein binding</text>
<text x="0" y="0" font-size="8.5" text-anchor="end" fill="#6D73B8" stroke="#6D73B8" stroke-width="0.15" transform="translate(518.95,718.60) rotate(-60.5) translate(0,6.12)">protein kinase activity</text>
<text x="0" y="0" font-size="8.5" text-anchor="end" fill="#6D73B8" stroke="#6D73B8" stroke-width="0.15" transform="translate(526.83,718.60) rotate(-60.5) translate(0,6.12)">phosphatidylinositol 3-kinase activity</text>
<text x="0" y="0" font-size="8.5" text-anchor="end" fill="#6D73B8" stroke="#6D73B8" stroke-width="0.15" transform="translate(534.70,718.60) rotate(-60.5) translate(0,6.12)">protein serine/threonine kinase activity</text>
<text x="0" y="0" font-size="8.5" text-anchor="end" fill="#6D73B8" stroke="#6D73B8" stroke-width="0.15" transform="translate(542.57,718.60) rotate(-60.5) translate(0,6.12)">1-phosphatidylinositol-4-phosphate 3-kinase activity</text>
<text x="0" y="0" font-size="8.5" text-anchor="end" fill="#6D73B8" stroke="#6D73B8" stroke-width="0.15" transform="translate(550.45,718.60) rotate(-60.5) translate(0,6.12)">phosphatidylinositol-4,5-bisphosphate 3-kinase activity</text>
<text x="0" y="0" font-size="8.5" text-anchor="end" fill="#6D73B8" stroke="#6D73B8" stroke-width="0.15" transform="translate(558.32,718.60) rotate(-60.5) translate(0,6.12)">non-membrane spanning protein tyrosine kinase activity</text>
<text x="0" y="0" font-size="8.5" text-anchor="end" fill="#6D73B8" stroke="#6D73B8" stroke-width="0.15" transform="translate(566.20,718.60) rotate(-60.5) translate(0,6.12)">phosphatidylinositol-3,4-bisphosphate 5-kinase activity</text>
<text x="0" y="0" font-size="8.5" text-anchor="end" fill="#6D73B8" stroke="#6D73B8" stroke-width="0.15" transform="translate(574.07,718.60) rotate(-60.5) translate(0,6.12)">1-phosphatidylinositol-3-kinase activity</text>
<text x="0" y="0" font-size="8.5" text-anchor="end" fill="#6D73B8" stroke="#6D73B8" stroke-width="0.15" transform="translate(581.94,718.60) rotate(-60.5) translate(0,6.12)">growth hormone receptor binding</text>
<text x="0" y="0" font-size="8.5" text-anchor="end" fill="#6D73B8" stroke="#6D73B8" stroke-width="0.15" transform="translate(589.82,718.60) rotate(-60.5) translate(0,6.12)">phosphatidylinositol kinase activity</text>
<text x="0" y="0" font-size="8.5" text-anchor="end" fill="#6D73B8" stroke="#6D73B8" stroke-width="0.15" transform="translate(597.69,718.60) rotate(-60.5) translate(0,6.12)">protein kinase binding</text>
<text x="0" y="0" font-size="8.5" text-anchor="end" fill="#6D73B8" stroke="#6D73B8" stroke-width="0.15" transform="translate(605.57,718.60) rotate(-60.5) translate(0,6.12)">protein binding</text>
<text x="0" y="0" font-size="8.5" text-anchor="end" fill="#6D73B8" stroke="#6D73B8" stroke-width="0.15" transform="translate(613.44,718.60) rotate(-60.5) translate(0,6.12)">enzyme binding</text>
<text x="0" y="0" font-size="8.5" text-anchor="end" fill="#6D73B8" stroke="#6D73B8" stroke-width="0.15" transform="translate(621.31,718.60) rotate(-60.5) translate(0,6.12)">ubiquitin protein ligase binding</text>
<polyline points="141.5,715.8 22.9,925.3 183.0,925.3 300.6,715.8" fill="none" stroke="#2AA07A" stroke-width="0.8"/>
<polyline points="307.8,715.8 189.1,925.3 348.0,925.3 465.9,715.8" fill="none" stroke="#D96424" stroke-width="0.8"/>
<polyline points="473.6,715.8 355.9,924.5 517.6,924.5 635.0,715.8" fill="none" stroke="#6D73B8" stroke-width="0.8"/>
<text x="99.50" y="935.90" font-size="10.8" text-anchor="middle" fill="#2AA07A">Biological process</text>
<text x="266.50" y="935.90" font-size="10.8" text-anchor="middle" fill="#D96424">Cellular component</text>
<text x="434.00" y="935.90" font-size="10.8" text-anchor="middle" fill="#6D73B8">Molecular function</text>
<rect x="587" y="575.2" width="22" height="7.4" fill="#2AA07A"/>
<text x="617.40" y="582.80" font-size="11" text-anchor="start" fill="#000">BP</text>
<rect x="587" y="590.7" width="22" height="7.4" fill="#D96424"/>
<text x="617.40" y="598.30" font-size="11" text-anchor="start" fill="#000">CC</text>
<rect x="587" y="605.8" width="22" height="7.4" fill="#6D73B8"/>
<text x="617.40" y="613.40" font-size="11" text-anchor="start" fill="#000">MF</text>
</svg>
</body></html>
